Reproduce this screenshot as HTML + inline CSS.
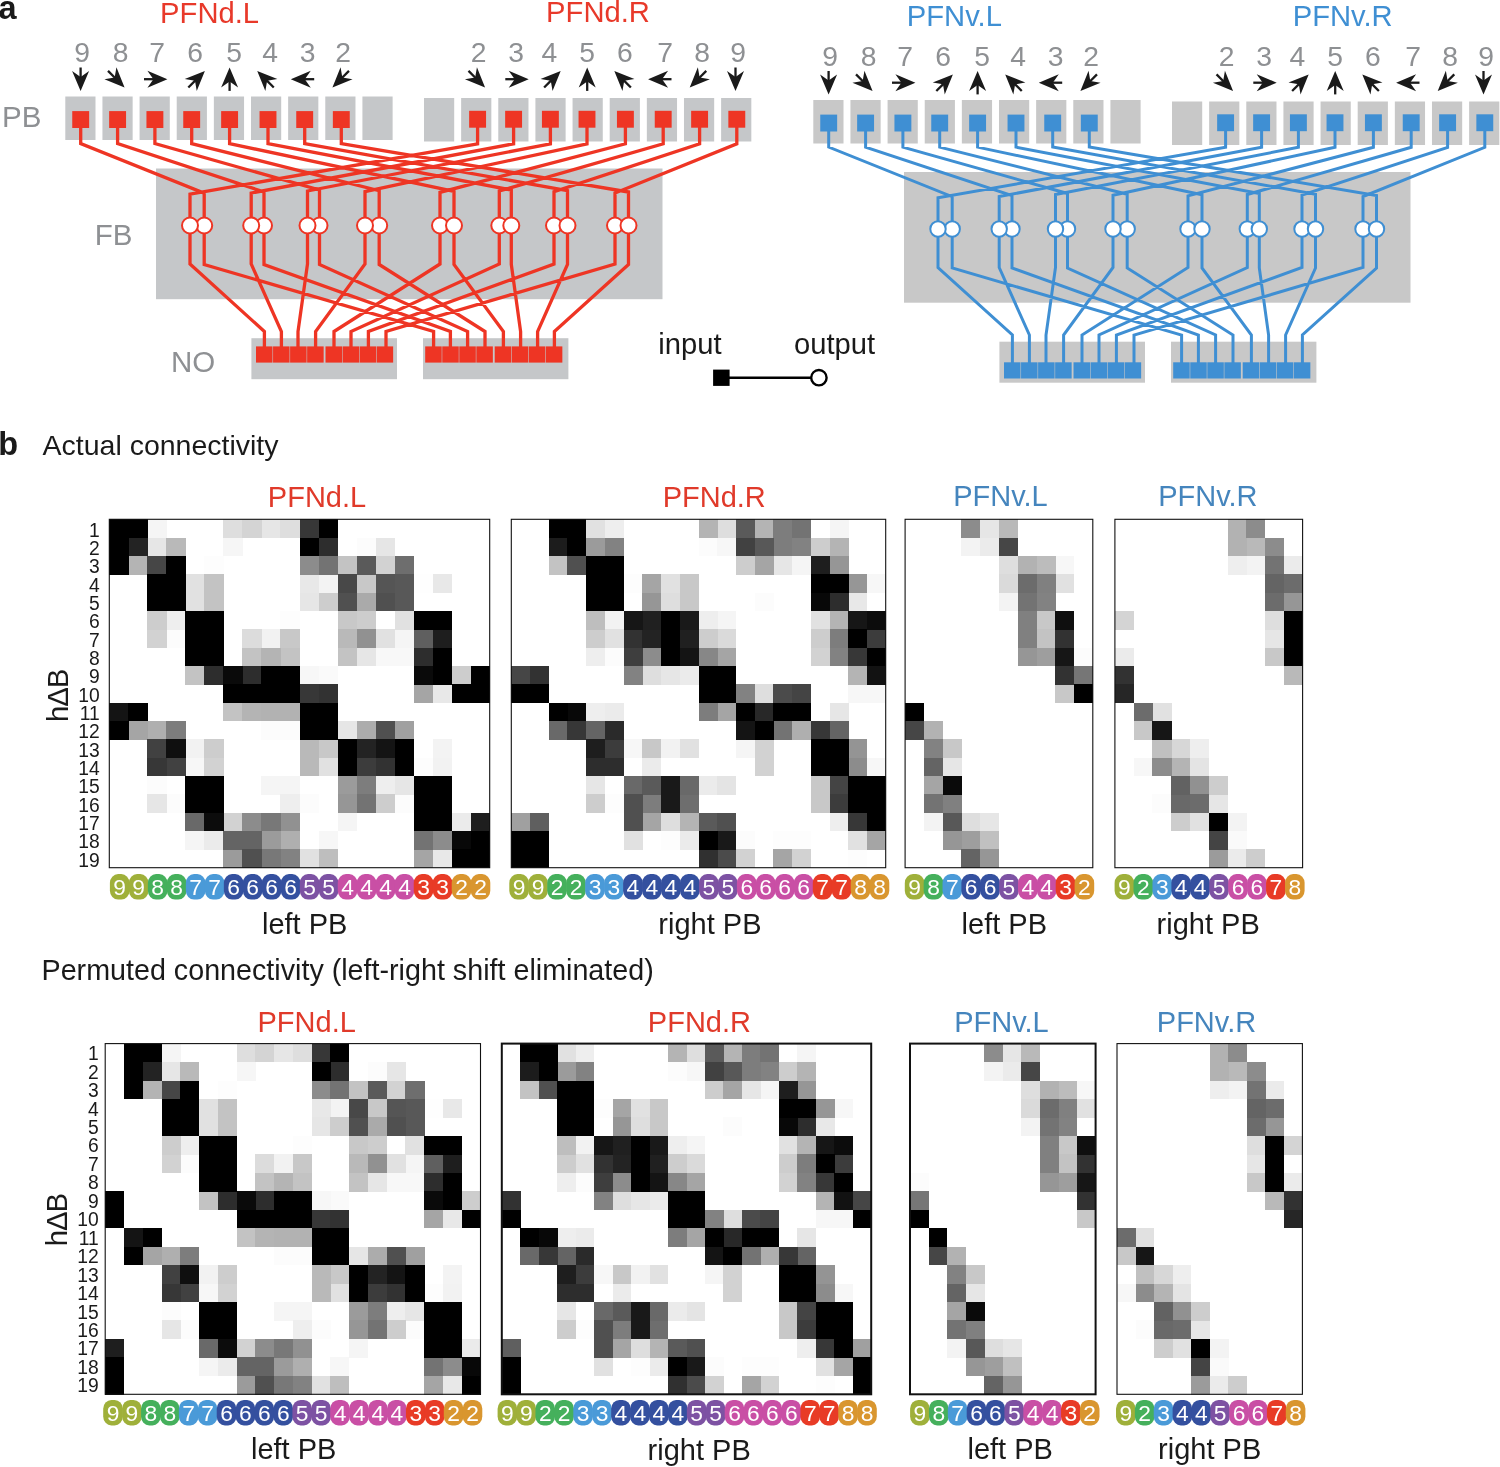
<!DOCTYPE html>
<html><head><meta charset="utf-8"><title>PFN connectivity</title>
<style>html,body{margin:0;padding:0;background:#fff}svg{display:block}</style></head>
<body>
<svg width="1500" height="1467" viewBox="0 0 1500 1467" font-family='"Liberation Sans", sans-serif'>
<rect width="1500" height="1467" fill="#fff"/>
<g transform="translate(0 0)">
<rect x="65.3" y="96.5" width="30.2" height="43.5" fill="#c5c7c9"/>
<rect x="424" y="98" width="30.2" height="43.5" fill="#c5c7c9"/>
<rect x="102.44" y="96.5" width="30.2" height="43.5" fill="#c5c7c9"/>
<rect x="461.14" y="98" width="30.2" height="43.5" fill="#c5c7c9"/>
<rect x="139.58" y="96.5" width="30.2" height="43.5" fill="#c5c7c9"/>
<rect x="498.28" y="98" width="30.2" height="43.5" fill="#c5c7c9"/>
<rect x="176.72" y="96.5" width="30.2" height="43.5" fill="#c5c7c9"/>
<rect x="535.42" y="98" width="30.2" height="43.5" fill="#c5c7c9"/>
<rect x="213.86" y="96.5" width="30.2" height="43.5" fill="#c5c7c9"/>
<rect x="572.56" y="98" width="30.2" height="43.5" fill="#c5c7c9"/>
<rect x="251" y="96.5" width="30.2" height="43.5" fill="#c5c7c9"/>
<rect x="609.7" y="98" width="30.2" height="43.5" fill="#c5c7c9"/>
<rect x="288.14" y="96.5" width="30.2" height="43.5" fill="#c5c7c9"/>
<rect x="646.84" y="98" width="30.2" height="43.5" fill="#c5c7c9"/>
<rect x="325.28" y="96.5" width="30.2" height="43.5" fill="#c5c7c9"/>
<rect x="683.98" y="98" width="30.2" height="43.5" fill="#c5c7c9"/>
<rect x="362.42" y="96.5" width="30.2" height="43.5" fill="#c5c7c9"/>
<rect x="721.12" y="98" width="30.2" height="43.5" fill="#c5c7c9"/>
<rect x="156" y="168.5" width="506.5" height="130.7" fill="#c5c7c9"/>
<rect x="251.4" y="338.2" width="145.6" height="41" fill="#c5c7c9"/>
<rect x="423" y="338.2" width="145.4" height="41" fill="#c5c7c9"/>
<path d="M80.7 120 V143.6 L204.2 193.2 V264.5 L433.6 331.5 V348.4 M477.6 120 V143.8 L190 194.2 V264 L264.4 331.5 V348.4 M117.6 120 V143.6 L264 192 V264.5 L450.4 331.5 V348.4 M513.6 120 V143.8 L251.2 193 V264 L281.4 331.5 V348.4 M154.9 120 V143.6 L319.5 190 V264.5 L467.6 331.5 V348.4 M550.4 120 V143.8 L307.5 191 V264 L298 331.5 V348.4 M191.7 120 V143.6 L379.2 190.7 V264.5 L485 331.5 V348.4 M587 120 V143.8 L365 191.7 V264 L315.6 331.5 V348.4 M229.6 120 V143.6 L454 191.3 V264.5 L503.4 331.5 V348.4 M625.4 120 V143.8 L440 192.3 V264 L334 331.5 V348.4 M268 120 V143.6 L511.3 190 V264.5 L520.6 331.5 V348.4 M663.2 120 V143.8 L499.3 191 V264 L351 331.5 V348.4 M304.7 120 V143.6 L567.5 190.7 V264.5 L537.6 331.5 V348.4 M699.6 120 V143.8 L554 191.7 V264 L368.4 331.5 V348.4 M341.3 120 V143.6 L628.5 192 V264.5 L554.4 331.5 V348.4 M736.8 120 V143.8 L615 193 V264 L386 331.5 V348.4" fill="none" stroke="#ee3524" stroke-width="3.3" stroke-linejoin="miter"/>
<rect x="72.25" y="111.1" width="16.9" height="16.9" fill="#ee3524"/>
<rect x="469.15" y="110.8" width="16.9" height="16.9" fill="#ee3524"/>
<rect x="109.15" y="111.1" width="16.9" height="16.9" fill="#ee3524"/>
<rect x="505.15" y="110.8" width="16.9" height="16.9" fill="#ee3524"/>
<rect x="146.45" y="111.1" width="16.9" height="16.9" fill="#ee3524"/>
<rect x="541.95" y="110.8" width="16.9" height="16.9" fill="#ee3524"/>
<rect x="183.25" y="111.1" width="16.9" height="16.9" fill="#ee3524"/>
<rect x="578.55" y="110.8" width="16.9" height="16.9" fill="#ee3524"/>
<rect x="221.15" y="111.1" width="16.9" height="16.9" fill="#ee3524"/>
<rect x="616.95" y="110.8" width="16.9" height="16.9" fill="#ee3524"/>
<rect x="259.55" y="111.1" width="16.9" height="16.9" fill="#ee3524"/>
<rect x="654.75" y="110.8" width="16.9" height="16.9" fill="#ee3524"/>
<rect x="296.25" y="111.1" width="16.9" height="16.9" fill="#ee3524"/>
<rect x="691.15" y="110.8" width="16.9" height="16.9" fill="#ee3524"/>
<rect x="332.85" y="111.1" width="16.9" height="16.9" fill="#ee3524"/>
<rect x="728.35" y="110.8" width="16.9" height="16.9" fill="#ee3524"/>
<rect x="256" y="346.4" width="16.5" height="16.2" fill="#ee3524"/>
<rect x="273.05" y="346.4" width="16.5" height="16.2" fill="#ee3524"/>
<rect x="290.1" y="346.4" width="16.5" height="16.2" fill="#ee3524"/>
<rect x="307.15" y="346.4" width="16.5" height="16.2" fill="#ee3524"/>
<rect x="325.5" y="346.4" width="16.5" height="16.2" fill="#ee3524"/>
<rect x="342.55" y="346.4" width="16.5" height="16.2" fill="#ee3524"/>
<rect x="359.6" y="346.4" width="16.5" height="16.2" fill="#ee3524"/>
<rect x="376.65" y="346.4" width="16.5" height="16.2" fill="#ee3524"/>
<rect x="425.2" y="346.4" width="16.5" height="16.2" fill="#ee3524"/>
<rect x="442.25" y="346.4" width="16.5" height="16.2" fill="#ee3524"/>
<rect x="459.3" y="346.4" width="16.5" height="16.2" fill="#ee3524"/>
<rect x="476.35" y="346.4" width="16.5" height="16.2" fill="#ee3524"/>
<rect x="494.7" y="346.4" width="16.5" height="16.2" fill="#ee3524"/>
<rect x="511.75" y="346.4" width="16.5" height="16.2" fill="#ee3524"/>
<rect x="528.8" y="346.4" width="16.5" height="16.2" fill="#ee3524"/>
<rect x="545.85" y="346.4" width="16.5" height="16.2" fill="#ee3524"/>
<circle cx="204.2" cy="225.5" r="8.0" fill="#fff" stroke="#ee3524" stroke-width="2.0"/>
<circle cx="190" cy="225.5" r="8.0" fill="#fff" stroke="#ee3524" stroke-width="2.0"/>
<circle cx="264" cy="225.5" r="8.0" fill="#fff" stroke="#ee3524" stroke-width="2.0"/>
<circle cx="251.2" cy="225.5" r="8.0" fill="#fff" stroke="#ee3524" stroke-width="2.0"/>
<circle cx="319.5" cy="225.5" r="8.0" fill="#fff" stroke="#ee3524" stroke-width="2.0"/>
<circle cx="307.5" cy="225.5" r="8.0" fill="#fff" stroke="#ee3524" stroke-width="2.0"/>
<circle cx="379.2" cy="225.5" r="8.0" fill="#fff" stroke="#ee3524" stroke-width="2.0"/>
<circle cx="365" cy="225.5" r="8.0" fill="#fff" stroke="#ee3524" stroke-width="2.0"/>
<circle cx="440" cy="225.5" r="8.0" fill="#fff" stroke="#ee3524" stroke-width="2.0"/>
<circle cx="454" cy="225.5" r="8.0" fill="#fff" stroke="#ee3524" stroke-width="2.0"/>
<circle cx="499.3" cy="225.5" r="8.0" fill="#fff" stroke="#ee3524" stroke-width="2.0"/>
<circle cx="511.3" cy="225.5" r="8.0" fill="#fff" stroke="#ee3524" stroke-width="2.0"/>
<circle cx="554" cy="225.5" r="8.0" fill="#fff" stroke="#ee3524" stroke-width="2.0"/>
<circle cx="567.5" cy="225.5" r="8.0" fill="#fff" stroke="#ee3524" stroke-width="2.0"/>
<circle cx="615" cy="225.5" r="8.0" fill="#fff" stroke="#ee3524" stroke-width="2.0"/>
<circle cx="628.5" cy="225.5" r="8.0" fill="#fff" stroke="#ee3524" stroke-width="2.0"/>
</g>
<text x="82" y="62.4" font-size="28.3" fill="#8e9093" text-anchor="middle">9</text>
<g transform="translate(80.6 79.2) rotate(90)"><path d="M11.7 0 L-8.3 -8.5 L-2.3 0 L-8.3 8.5 Z" fill="#1a1a1a"/><path d="M-11.7 0 L-1.3 0" stroke="#1a1a1a" stroke-width="2.3" fill="none"/></g>
<text x="478.7" y="62.4" font-size="28.3" fill="#8e9093" text-anchor="middle">2</text>
<g transform="translate(476.8 79.2) rotate(45)"><path d="M11.7 0 L-8.3 -8.5 L-2.3 0 L-8.3 8.5 Z" fill="#1a1a1a"/><path d="M-11.7 0 L-1.3 0" stroke="#1a1a1a" stroke-width="2.3" fill="none"/></g>
<text x="120.5" y="62.4" font-size="28.3" fill="#8e9093" text-anchor="middle">8</text>
<g transform="translate(116.3 79.2) rotate(45)"><path d="M11.7 0 L-8.3 -8.5 L-2.3 0 L-8.3 8.5 Z" fill="#1a1a1a"/><path d="M-11.7 0 L-1.3 0" stroke="#1a1a1a" stroke-width="2.3" fill="none"/></g>
<text x="516" y="62.4" font-size="28.3" fill="#8e9093" text-anchor="middle">3</text>
<g transform="translate(517 79.2) rotate(0)"><path d="M11.7 0 L-8.3 -8.5 L-2.3 0 L-8.3 8.5 Z" fill="#1a1a1a"/><path d="M-11.7 0 L-1.3 0" stroke="#1a1a1a" stroke-width="2.3" fill="none"/></g>
<text x="157.2" y="62.4" font-size="28.3" fill="#8e9093" text-anchor="middle">7</text>
<g transform="translate(155.7 79.2) rotate(0)"><path d="M11.7 0 L-8.3 -8.5 L-2.3 0 L-8.3 8.5 Z" fill="#1a1a1a"/><path d="M-11.7 0 L-1.3 0" stroke="#1a1a1a" stroke-width="2.3" fill="none"/></g>
<text x="549.4" y="62.4" font-size="28.3" fill="#8e9093" text-anchor="middle">4</text>
<g transform="translate(552.4 79.2) rotate(-45)"><path d="M11.7 0 L-8.3 -8.5 L-2.3 0 L-8.3 8.5 Z" fill="#1a1a1a"/><path d="M-11.7 0 L-1.3 0" stroke="#1a1a1a" stroke-width="2.3" fill="none"/></g>
<text x="195.2" y="62.4" font-size="28.3" fill="#8e9093" text-anchor="middle">6</text>
<g transform="translate(196.6 79.2) rotate(-45)"><path d="M11.7 0 L-8.3 -8.5 L-2.3 0 L-8.3 8.5 Z" fill="#1a1a1a"/><path d="M-11.7 0 L-1.3 0" stroke="#1a1a1a" stroke-width="2.3" fill="none"/></g>
<text x="587.2" y="62.4" font-size="28.3" fill="#8e9093" text-anchor="middle">5</text>
<g transform="translate(587.2 79.2) rotate(-90)"><path d="M11.7 0 L-8.3 -8.5 L-2.3 0 L-8.3 8.5 Z" fill="#1a1a1a"/><path d="M-11.7 0 L-1.3 0" stroke="#1a1a1a" stroke-width="2.3" fill="none"/></g>
<text x="234" y="62.4" font-size="28.3" fill="#8e9093" text-anchor="middle">5</text>
<g transform="translate(229.6 79.2) rotate(-90)"><path d="M11.7 0 L-8.3 -8.5 L-2.3 0 L-8.3 8.5 Z" fill="#1a1a1a"/><path d="M-11.7 0 L-1.3 0" stroke="#1a1a1a" stroke-width="2.3" fill="none"/></g>
<text x="624.8" y="62.4" font-size="28.3" fill="#8e9093" text-anchor="middle">6</text>
<g transform="translate(622.6 79.2) rotate(-135)"><path d="M11.7 0 L-8.3 -8.5 L-2.3 0 L-8.3 8.5 Z" fill="#1a1a1a"/><path d="M-11.7 0 L-1.3 0" stroke="#1a1a1a" stroke-width="2.3" fill="none"/></g>
<text x="270" y="62.4" font-size="28.3" fill="#8e9093" text-anchor="middle">4</text>
<g transform="translate(265.5 79.2) rotate(-135)"><path d="M11.7 0 L-8.3 -8.5 L-2.3 0 L-8.3 8.5 Z" fill="#1a1a1a"/><path d="M-11.7 0 L-1.3 0" stroke="#1a1a1a" stroke-width="2.3" fill="none"/></g>
<text x="665.2" y="62.4" font-size="28.3" fill="#8e9093" text-anchor="middle">7</text>
<g transform="translate(659.8 79.2) rotate(180)"><path d="M11.7 0 L-8.3 -8.5 L-2.3 0 L-8.3 8.5 Z" fill="#1a1a1a"/><path d="M-11.7 0 L-1.3 0" stroke="#1a1a1a" stroke-width="2.3" fill="none"/></g>
<text x="307.7" y="62.4" font-size="28.3" fill="#8e9093" text-anchor="middle">3</text>
<g transform="translate(302.5 79.2) rotate(180)"><path d="M11.7 0 L-8.3 -8.5 L-2.3 0 L-8.3 8.5 Z" fill="#1a1a1a"/><path d="M-11.7 0 L-1.3 0" stroke="#1a1a1a" stroke-width="2.3" fill="none"/></g>
<text x="702.2" y="62.4" font-size="28.3" fill="#8e9093" text-anchor="middle">8</text>
<g transform="translate(698 79.2) rotate(135)"><path d="M11.7 0 L-8.3 -8.5 L-2.3 0 L-8.3 8.5 Z" fill="#1a1a1a"/><path d="M-11.7 0 L-1.3 0" stroke="#1a1a1a" stroke-width="2.3" fill="none"/></g>
<text x="343" y="62.4" font-size="28.3" fill="#8e9093" text-anchor="middle">2</text>
<g transform="translate(340.7 79.2) rotate(135)"><path d="M11.7 0 L-8.3 -8.5 L-2.3 0 L-8.3 8.5 Z" fill="#1a1a1a"/><path d="M-11.7 0 L-1.3 0" stroke="#1a1a1a" stroke-width="2.3" fill="none"/></g>
<text x="738.2" y="62.4" font-size="28.3" fill="#8e9093" text-anchor="middle">9</text>
<g transform="translate(735.5 79.2) rotate(90)"><path d="M11.7 0 L-8.3 -8.5 L-2.3 0 L-8.3 8.5 Z" fill="#1a1a1a"/><path d="M-11.7 0 L-1.3 0" stroke="#1a1a1a" stroke-width="2.3" fill="none"/></g>
<text x="209.6" y="22.6" font-size="29.2" fill="#e8392a" text-anchor="middle">PFNd.L</text>
<text x="598" y="22.2" font-size="29.2" fill="#e8392a" text-anchor="middle">PFNd.R</text>
<g transform="translate(748 3.5)">
<rect x="65.3" y="96.5" width="30.2" height="43.5" fill="#c8c8c8"/>
<rect x="424" y="98" width="30.2" height="43.5" fill="#c8c8c8"/>
<rect x="102.44" y="96.5" width="30.2" height="43.5" fill="#c8c8c8"/>
<rect x="461.14" y="98" width="30.2" height="43.5" fill="#c8c8c8"/>
<rect x="139.58" y="96.5" width="30.2" height="43.5" fill="#c8c8c8"/>
<rect x="498.28" y="98" width="30.2" height="43.5" fill="#c8c8c8"/>
<rect x="176.72" y="96.5" width="30.2" height="43.5" fill="#c8c8c8"/>
<rect x="535.42" y="98" width="30.2" height="43.5" fill="#c8c8c8"/>
<rect x="213.86" y="96.5" width="30.2" height="43.5" fill="#c8c8c8"/>
<rect x="572.56" y="98" width="30.2" height="43.5" fill="#c8c8c8"/>
<rect x="251" y="96.5" width="30.2" height="43.5" fill="#c8c8c8"/>
<rect x="609.7" y="98" width="30.2" height="43.5" fill="#c8c8c8"/>
<rect x="288.14" y="96.5" width="30.2" height="43.5" fill="#c8c8c8"/>
<rect x="646.84" y="98" width="30.2" height="43.5" fill="#c8c8c8"/>
<rect x="325.28" y="96.5" width="30.2" height="43.5" fill="#c8c8c8"/>
<rect x="683.98" y="98" width="30.2" height="43.5" fill="#c8c8c8"/>
<rect x="362.42" y="96.5" width="30.2" height="43.5" fill="#c8c8c8"/>
<rect x="721.12" y="98" width="30.2" height="43.5" fill="#c8c8c8"/>
<rect x="156" y="168.5" width="506.5" height="130.7" fill="#c8c8c8"/>
<rect x="251.4" y="338.2" width="145.6" height="41" fill="#c8c8c8"/>
<rect x="423" y="338.2" width="145.4" height="41" fill="#c8c8c8"/>
<path d="M80.7 120 V143.6 L204.2 193.2 V264.5 L433.6 331.5 V360.8 M477.6 120 V143.8 L190 194.2 V264 L264.4 331.5 V360.8 M117.6 120 V143.6 L264 192 V264.5 L450.4 331.5 V360.8 M513.6 120 V143.8 L251.2 193 V264 L281.4 331.5 V360.8 M154.9 120 V143.6 L319.5 190 V264.5 L467.6 331.5 V360.8 M550.4 120 V143.8 L307.5 191 V264 L298 331.5 V360.8 M191.7 120 V143.6 L379.2 190.7 V264.5 L485 331.5 V360.8 M587 120 V143.8 L365 191.7 V264 L315.6 331.5 V360.8 M229.6 120 V143.6 L454 191.3 V264.5 L503.4 331.5 V360.8 M625.4 120 V143.8 L440 192.3 V264 L334 331.5 V360.8 M268 120 V143.6 L511.3 190 V264.5 L520.6 331.5 V360.8 M663.2 120 V143.8 L499.3 191 V264 L351 331.5 V360.8 M304.7 120 V143.6 L567.5 190.7 V264.5 L537.6 331.5 V360.8 M699.6 120 V143.8 L554 191.7 V264 L368.4 331.5 V360.8 M341.3 120 V143.6 L628.5 192 V264.5 L554.4 331.5 V360.8 M736.8 120 V143.8 L615 193 V264 L386 331.5 V360.8" fill="none" stroke="#3f8fd3" stroke-width="3.0" stroke-linejoin="miter"/>
<rect x="72.25" y="111.1" width="16.9" height="16.9" fill="#3f8fd3"/>
<rect x="469.15" y="110.8" width="16.9" height="16.9" fill="#3f8fd3"/>
<rect x="109.15" y="111.1" width="16.9" height="16.9" fill="#3f8fd3"/>
<rect x="505.15" y="110.8" width="16.9" height="16.9" fill="#3f8fd3"/>
<rect x="146.45" y="111.1" width="16.9" height="16.9" fill="#3f8fd3"/>
<rect x="541.95" y="110.8" width="16.9" height="16.9" fill="#3f8fd3"/>
<rect x="183.25" y="111.1" width="16.9" height="16.9" fill="#3f8fd3"/>
<rect x="578.55" y="110.8" width="16.9" height="16.9" fill="#3f8fd3"/>
<rect x="221.15" y="111.1" width="16.9" height="16.9" fill="#3f8fd3"/>
<rect x="616.95" y="110.8" width="16.9" height="16.9" fill="#3f8fd3"/>
<rect x="259.55" y="111.1" width="16.9" height="16.9" fill="#3f8fd3"/>
<rect x="654.75" y="110.8" width="16.9" height="16.9" fill="#3f8fd3"/>
<rect x="296.25" y="111.1" width="16.9" height="16.9" fill="#3f8fd3"/>
<rect x="691.15" y="110.8" width="16.9" height="16.9" fill="#3f8fd3"/>
<rect x="332.85" y="111.1" width="16.9" height="16.9" fill="#3f8fd3"/>
<rect x="728.35" y="110.8" width="16.9" height="16.9" fill="#3f8fd3"/>
<rect x="256" y="358.8" width="16.5" height="16.2" fill="#3f8fd3"/>
<rect x="273.05" y="358.8" width="16.5" height="16.2" fill="#3f8fd3"/>
<rect x="290.1" y="358.8" width="16.5" height="16.2" fill="#3f8fd3"/>
<rect x="307.15" y="358.8" width="16.5" height="16.2" fill="#3f8fd3"/>
<rect x="325.5" y="358.8" width="16.5" height="16.2" fill="#3f8fd3"/>
<rect x="342.55" y="358.8" width="16.5" height="16.2" fill="#3f8fd3"/>
<rect x="359.6" y="358.8" width="16.5" height="16.2" fill="#3f8fd3"/>
<rect x="376.65" y="358.8" width="16.5" height="16.2" fill="#3f8fd3"/>
<rect x="425.2" y="358.8" width="16.5" height="16.2" fill="#3f8fd3"/>
<rect x="442.25" y="358.8" width="16.5" height="16.2" fill="#3f8fd3"/>
<rect x="459.3" y="358.8" width="16.5" height="16.2" fill="#3f8fd3"/>
<rect x="476.35" y="358.8" width="16.5" height="16.2" fill="#3f8fd3"/>
<rect x="494.7" y="358.8" width="16.5" height="16.2" fill="#3f8fd3"/>
<rect x="511.75" y="358.8" width="16.5" height="16.2" fill="#3f8fd3"/>
<rect x="528.8" y="358.8" width="16.5" height="16.2" fill="#3f8fd3"/>
<rect x="545.85" y="358.8" width="16.5" height="16.2" fill="#3f8fd3"/>
<circle cx="204.2" cy="225.5" r="7.7" fill="#fff" stroke="#3f8fd3" stroke-width="2.0"/>
<circle cx="190" cy="225.5" r="7.7" fill="#fff" stroke="#3f8fd3" stroke-width="2.0"/>
<circle cx="264" cy="225.5" r="7.7" fill="#fff" stroke="#3f8fd3" stroke-width="2.0"/>
<circle cx="251.2" cy="225.5" r="7.7" fill="#fff" stroke="#3f8fd3" stroke-width="2.0"/>
<circle cx="319.5" cy="225.5" r="7.7" fill="#fff" stroke="#3f8fd3" stroke-width="2.0"/>
<circle cx="307.5" cy="225.5" r="7.7" fill="#fff" stroke="#3f8fd3" stroke-width="2.0"/>
<circle cx="379.2" cy="225.5" r="7.7" fill="#fff" stroke="#3f8fd3" stroke-width="2.0"/>
<circle cx="365" cy="225.5" r="7.7" fill="#fff" stroke="#3f8fd3" stroke-width="2.0"/>
<circle cx="440" cy="225.5" r="7.7" fill="#fff" stroke="#3f8fd3" stroke-width="2.0"/>
<circle cx="454" cy="225.5" r="7.7" fill="#fff" stroke="#3f8fd3" stroke-width="2.0"/>
<circle cx="499.3" cy="225.5" r="7.7" fill="#fff" stroke="#3f8fd3" stroke-width="2.0"/>
<circle cx="511.3" cy="225.5" r="7.7" fill="#fff" stroke="#3f8fd3" stroke-width="2.0"/>
<circle cx="554" cy="225.5" r="7.7" fill="#fff" stroke="#3f8fd3" stroke-width="2.0"/>
<circle cx="567.5" cy="225.5" r="7.7" fill="#fff" stroke="#3f8fd3" stroke-width="2.0"/>
<circle cx="615" cy="225.5" r="7.7" fill="#fff" stroke="#3f8fd3" stroke-width="2.0"/>
<circle cx="628.5" cy="225.5" r="7.7" fill="#fff" stroke="#3f8fd3" stroke-width="2.0"/>
</g>
<text x="830" y="65.9" font-size="28.3" fill="#8e9093" text-anchor="middle">9</text>
<g transform="translate(828.6 82.7) rotate(90)"><path d="M11.7 0 L-8.3 -8.5 L-2.3 0 L-8.3 8.5 Z" fill="#1a1a1a"/><path d="M-11.7 0 L-1.3 0" stroke="#1a1a1a" stroke-width="2.3" fill="none"/></g>
<text x="1226.7" y="65.9" font-size="28.3" fill="#8e9093" text-anchor="middle">2</text>
<g transform="translate(1224.8 82.7) rotate(45)"><path d="M11.7 0 L-8.3 -8.5 L-2.3 0 L-8.3 8.5 Z" fill="#1a1a1a"/><path d="M-11.7 0 L-1.3 0" stroke="#1a1a1a" stroke-width="2.3" fill="none"/></g>
<text x="868.5" y="65.9" font-size="28.3" fill="#8e9093" text-anchor="middle">8</text>
<g transform="translate(864.3 82.7) rotate(45)"><path d="M11.7 0 L-8.3 -8.5 L-2.3 0 L-8.3 8.5 Z" fill="#1a1a1a"/><path d="M-11.7 0 L-1.3 0" stroke="#1a1a1a" stroke-width="2.3" fill="none"/></g>
<text x="1264" y="65.9" font-size="28.3" fill="#8e9093" text-anchor="middle">3</text>
<g transform="translate(1265 82.7) rotate(0)"><path d="M11.7 0 L-8.3 -8.5 L-2.3 0 L-8.3 8.5 Z" fill="#1a1a1a"/><path d="M-11.7 0 L-1.3 0" stroke="#1a1a1a" stroke-width="2.3" fill="none"/></g>
<text x="905.2" y="65.9" font-size="28.3" fill="#8e9093" text-anchor="middle">7</text>
<g transform="translate(903.7 82.7) rotate(0)"><path d="M11.7 0 L-8.3 -8.5 L-2.3 0 L-8.3 8.5 Z" fill="#1a1a1a"/><path d="M-11.7 0 L-1.3 0" stroke="#1a1a1a" stroke-width="2.3" fill="none"/></g>
<text x="1297.4" y="65.9" font-size="28.3" fill="#8e9093" text-anchor="middle">4</text>
<g transform="translate(1300.4 82.7) rotate(-45)"><path d="M11.7 0 L-8.3 -8.5 L-2.3 0 L-8.3 8.5 Z" fill="#1a1a1a"/><path d="M-11.7 0 L-1.3 0" stroke="#1a1a1a" stroke-width="2.3" fill="none"/></g>
<text x="943.2" y="65.9" font-size="28.3" fill="#8e9093" text-anchor="middle">6</text>
<g transform="translate(944.6 82.7) rotate(-45)"><path d="M11.7 0 L-8.3 -8.5 L-2.3 0 L-8.3 8.5 Z" fill="#1a1a1a"/><path d="M-11.7 0 L-1.3 0" stroke="#1a1a1a" stroke-width="2.3" fill="none"/></g>
<text x="1335.2" y="65.9" font-size="28.3" fill="#8e9093" text-anchor="middle">5</text>
<g transform="translate(1335.2 82.7) rotate(-90)"><path d="M11.7 0 L-8.3 -8.5 L-2.3 0 L-8.3 8.5 Z" fill="#1a1a1a"/><path d="M-11.7 0 L-1.3 0" stroke="#1a1a1a" stroke-width="2.3" fill="none"/></g>
<text x="982" y="65.9" font-size="28.3" fill="#8e9093" text-anchor="middle">5</text>
<g transform="translate(977.6 82.7) rotate(-90)"><path d="M11.7 0 L-8.3 -8.5 L-2.3 0 L-8.3 8.5 Z" fill="#1a1a1a"/><path d="M-11.7 0 L-1.3 0" stroke="#1a1a1a" stroke-width="2.3" fill="none"/></g>
<text x="1372.8" y="65.9" font-size="28.3" fill="#8e9093" text-anchor="middle">6</text>
<g transform="translate(1370.6 82.7) rotate(-135)"><path d="M11.7 0 L-8.3 -8.5 L-2.3 0 L-8.3 8.5 Z" fill="#1a1a1a"/><path d="M-11.7 0 L-1.3 0" stroke="#1a1a1a" stroke-width="2.3" fill="none"/></g>
<text x="1018" y="65.9" font-size="28.3" fill="#8e9093" text-anchor="middle">4</text>
<g transform="translate(1013.5 82.7) rotate(-135)"><path d="M11.7 0 L-8.3 -8.5 L-2.3 0 L-8.3 8.5 Z" fill="#1a1a1a"/><path d="M-11.7 0 L-1.3 0" stroke="#1a1a1a" stroke-width="2.3" fill="none"/></g>
<text x="1413.2" y="65.9" font-size="28.3" fill="#8e9093" text-anchor="middle">7</text>
<g transform="translate(1407.8 82.7) rotate(180)"><path d="M11.7 0 L-8.3 -8.5 L-2.3 0 L-8.3 8.5 Z" fill="#1a1a1a"/><path d="M-11.7 0 L-1.3 0" stroke="#1a1a1a" stroke-width="2.3" fill="none"/></g>
<text x="1055.7" y="65.9" font-size="28.3" fill="#8e9093" text-anchor="middle">3</text>
<g transform="translate(1050.5 82.7) rotate(180)"><path d="M11.7 0 L-8.3 -8.5 L-2.3 0 L-8.3 8.5 Z" fill="#1a1a1a"/><path d="M-11.7 0 L-1.3 0" stroke="#1a1a1a" stroke-width="2.3" fill="none"/></g>
<text x="1450.2" y="65.9" font-size="28.3" fill="#8e9093" text-anchor="middle">8</text>
<g transform="translate(1446 82.7) rotate(135)"><path d="M11.7 0 L-8.3 -8.5 L-2.3 0 L-8.3 8.5 Z" fill="#1a1a1a"/><path d="M-11.7 0 L-1.3 0" stroke="#1a1a1a" stroke-width="2.3" fill="none"/></g>
<text x="1091" y="65.9" font-size="28.3" fill="#8e9093" text-anchor="middle">2</text>
<g transform="translate(1088.7 82.7) rotate(135)"><path d="M11.7 0 L-8.3 -8.5 L-2.3 0 L-8.3 8.5 Z" fill="#1a1a1a"/><path d="M-11.7 0 L-1.3 0" stroke="#1a1a1a" stroke-width="2.3" fill="none"/></g>
<text x="1486.2" y="65.9" font-size="28.3" fill="#8e9093" text-anchor="middle">9</text>
<g transform="translate(1483.5 82.7) rotate(90)"><path d="M11.7 0 L-8.3 -8.5 L-2.3 0 L-8.3 8.5 Z" fill="#1a1a1a"/><path d="M-11.7 0 L-1.3 0" stroke="#1a1a1a" stroke-width="2.3" fill="none"/></g>
<text x="954.4" y="26" font-size="29.2" fill="#3f8fd3" text-anchor="middle">PFNv.L</text>
<text x="1342.7" y="26" font-size="29.2" fill="#3f8fd3" text-anchor="middle">PFNv.R</text>
<text x="-1.6" y="18.5" font-size="32.5" fill="#1a1a1a" text-anchor="start" font-weight="bold">a</text>
<text x="2" y="126.8" font-size="29.5" fill="#8e9093" text-anchor="start">PB</text>
<text x="94.7" y="245.4" font-size="29.5" fill="#8e9093" text-anchor="start">FB</text>
<text x="171" y="372.2" font-size="29.5" fill="#8e9093" text-anchor="start">NO</text>
<text x="658.3" y="353.8" font-size="29.2" fill="#1a1a1a" text-anchor="start">input</text>
<text x="794" y="353.8" font-size="29.2" fill="#1a1a1a" text-anchor="start">output</text>
<path d="M729 377.7 H811" stroke="#000" stroke-width="2.6" fill="none"/>
<rect x="713.1" y="369.6" width="16.5" height="16.3" fill="#000"/>
<circle cx="818.9" cy="377.7" r="7.7" fill="#fff" stroke="#000" stroke-width="2.4"/>
<text x="-1.8" y="454.5" font-size="32.5" fill="#1a1a1a" text-anchor="start" font-weight="bold">b</text>
<text x="42.5" y="454.5" font-size="28.5" fill="#1a1a1a" text-anchor="start">Actual connectivity</text>
<text x="41.5" y="979.5" font-size="28.7" fill="#1a1a1a" text-anchor="start">Permuted connectivity (left-right shift eliminated)</text>
<g shape-rendering="crispEdges">
<rect x="413.62" y="574.31" width="19.32" height="18.64" fill="rgb(254,254,254)"/>
<rect x="413.62" y="757.68" width="19.32" height="18.64" fill="rgb(253,253,253)"/>
<rect x="280.48" y="610.98" width="19.32" height="18.64" fill="rgb(253,253,253)"/>
<rect x="204.4" y="555.97" width="19.32" height="18.64" fill="rgb(253,253,253)"/>
<rect x="394.6" y="794.35" width="19.32" height="18.64" fill="rgb(252,252,252)"/>
<rect x="299.5" y="794.35" width="19.32" height="18.64" fill="rgb(252,252,252)"/>
<rect x="166.36" y="794.35" width="19.32" height="18.64" fill="rgb(252,252,252)"/>
<rect x="147.34" y="776.02" width="19.32" height="18.64" fill="rgb(252,252,252)"/>
<rect x="280.48" y="721.01" width="19.32" height="18.64" fill="rgb(252,252,252)"/>
<rect x="261.46" y="721.01" width="19.32" height="18.64" fill="rgb(252,252,252)"/>
<rect x="166.36" y="629.32" width="19.32" height="18.64" fill="rgb(252,252,252)"/>
<rect x="356.56" y="537.64" width="19.32" height="18.64" fill="rgb(252,252,252)"/>
<rect x="318.52" y="665.99" width="19.32" height="18.64" fill="rgb(250,250,250)"/>
<rect x="394.6" y="647.66" width="19.32" height="18.64" fill="rgb(248,248,248)"/>
<rect x="375.58" y="647.66" width="19.32" height="18.64" fill="rgb(248,248,248)"/>
<rect x="318.52" y="831.03" width="19.32" height="18.64" fill="rgb(247,247,247)"/>
<rect x="185.38" y="757.68" width="19.32" height="18.64" fill="rgb(247,247,247)"/>
<rect x="299.5" y="665.99" width="19.32" height="18.64" fill="rgb(247,247,247)"/>
<rect x="223.42" y="537.64" width="19.32" height="18.64" fill="rgb(246,246,246)"/>
<rect x="185.38" y="831.03" width="19.32" height="18.64" fill="rgb(245,245,245)"/>
<rect x="337.54" y="812.69" width="19.32" height="18.64" fill="rgb(245,245,245)"/>
<rect x="280.48" y="776.02" width="19.32" height="18.64" fill="rgb(245,245,245)"/>
<rect x="261.46" y="776.02" width="19.32" height="18.64" fill="rgb(245,245,245)"/>
<rect x="394.6" y="629.32" width="19.32" height="18.64" fill="rgb(245,245,245)"/>
<rect x="147.34" y="519.3" width="19.32" height="18.64" fill="rgb(245,245,245)"/>
<rect x="432.64" y="739.34" width="19.32" height="18.64" fill="rgb(243,243,243)"/>
<rect x="318.52" y="574.31" width="19.32" height="18.64" fill="rgb(243,243,243)"/>
<rect x="432.64" y="757.68" width="19.32" height="18.64" fill="rgb(242,242,242)"/>
<rect x="185.38" y="739.34" width="19.32" height="18.64" fill="rgb(242,242,242)"/>
<rect x="261.46" y="629.32" width="19.32" height="18.64" fill="rgb(242,242,242)"/>
<rect x="280.48" y="794.35" width="19.32" height="18.64" fill="rgb(238,238,238)"/>
<rect x="375.58" y="776.02" width="19.32" height="18.64" fill="rgb(238,238,238)"/>
<rect x="166.36" y="610.98" width="19.32" height="18.64" fill="rgb(238,238,238)"/>
<rect x="204.4" y="831.03" width="19.32" height="18.64" fill="rgb(235,235,235)"/>
<rect x="451.66" y="812.69" width="19.32" height="18.64" fill="rgb(235,235,235)"/>
<rect x="432.64" y="849.36" width="19.32" height="18.64" fill="rgb(232,232,232)"/>
<rect x="432.64" y="684.33" width="19.32" height="18.64" fill="rgb(232,232,232)"/>
<rect x="432.64" y="574.31" width="19.32" height="18.64" fill="rgb(232,232,232)"/>
<rect x="299.5" y="574.31" width="19.32" height="18.64" fill="rgb(232,232,232)"/>
<rect x="147.34" y="794.35" width="19.32" height="18.64" fill="rgb(230,230,230)"/>
<rect x="394.6" y="776.02" width="19.32" height="18.64" fill="rgb(230,230,230)"/>
<rect x="337.54" y="721.01" width="19.32" height="18.64" fill="rgb(230,230,230)"/>
<rect x="356.56" y="647.66" width="19.32" height="18.64" fill="rgb(230,230,230)"/>
<rect x="299.5" y="592.65" width="19.32" height="18.64" fill="rgb(230,230,230)"/>
<rect x="375.58" y="537.64" width="19.32" height="18.64" fill="rgb(230,230,230)"/>
<rect x="147.34" y="537.64" width="19.32" height="18.64" fill="rgb(230,230,230)"/>
<rect x="261.46" y="519.3" width="19.32" height="18.64" fill="rgb(230,230,230)"/>
<rect x="299.5" y="849.36" width="19.32" height="18.64" fill="rgb(225,225,225)"/>
<rect x="318.52" y="757.68" width="19.32" height="18.64" fill="rgb(225,225,225)"/>
<rect x="375.58" y="629.32" width="19.32" height="18.64" fill="rgb(225,225,225)"/>
<rect x="394.6" y="610.98" width="19.32" height="18.64" fill="rgb(225,225,225)"/>
<rect x="185.38" y="592.65" width="19.32" height="18.64" fill="rgb(225,225,225)"/>
<rect x="185.38" y="574.31" width="19.32" height="18.64" fill="rgb(225,225,225)"/>
<rect x="280.48" y="519.3" width="19.32" height="18.64" fill="rgb(222,222,222)"/>
<rect x="223.42" y="519.3" width="19.32" height="18.64" fill="rgb(222,222,222)"/>
<rect x="242.44" y="629.32" width="19.32" height="18.64" fill="rgb(220,220,220)"/>
<rect x="242.44" y="519.3" width="19.32" height="18.64" fill="rgb(212,212,212)"/>
<rect x="223.42" y="812.69" width="19.32" height="18.64" fill="rgb(210,210,210)"/>
<rect x="204.4" y="757.68" width="19.32" height="18.64" fill="rgb(210,210,210)"/>
<rect x="147.34" y="629.32" width="19.32" height="18.64" fill="rgb(210,210,210)"/>
<rect x="375.58" y="555.97" width="19.32" height="18.64" fill="rgb(210,210,210)"/>
<rect x="375.58" y="794.35" width="19.32" height="18.64" fill="rgb(205,205,205)"/>
<rect x="204.4" y="739.34" width="19.32" height="18.64" fill="rgb(205,205,205)"/>
<rect x="451.66" y="665.99" width="19.32" height="18.64" fill="rgb(205,205,205)"/>
<rect x="356.56" y="610.98" width="19.32" height="18.64" fill="rgb(205,205,205)"/>
<rect x="147.34" y="610.98" width="19.32" height="18.64" fill="rgb(205,205,205)"/>
<rect x="318.52" y="592.65" width="19.32" height="18.64" fill="rgb(205,205,205)"/>
<rect x="318.52" y="739.34" width="19.32" height="18.64" fill="rgb(200,200,200)"/>
<rect x="280.48" y="629.32" width="19.32" height="18.64" fill="rgb(200,200,200)"/>
<rect x="337.54" y="610.98" width="19.32" height="18.64" fill="rgb(200,200,200)"/>
<rect x="356.56" y="574.31" width="19.32" height="18.64" fill="rgb(200,200,200)"/>
<rect x="223.42" y="702.67" width="19.32" height="18.64" fill="rgb(195,195,195)"/>
<rect x="185.38" y="665.99" width="19.32" height="18.64" fill="rgb(195,195,195)"/>
<rect x="337.54" y="647.66" width="19.32" height="18.64" fill="rgb(195,195,195)"/>
<rect x="280.48" y="647.66" width="19.32" height="18.64" fill="rgb(195,195,195)"/>
<rect x="242.44" y="647.66" width="19.32" height="18.64" fill="rgb(195,195,195)"/>
<rect x="204.4" y="592.65" width="19.32" height="18.64" fill="rgb(195,195,195)"/>
<rect x="204.4" y="574.31" width="19.32" height="18.64" fill="rgb(195,195,195)"/>
<rect x="337.54" y="555.97" width="19.32" height="18.64" fill="rgb(195,195,195)"/>
<rect x="318.52" y="849.36" width="19.32" height="18.64" fill="rgb(190,190,190)"/>
<rect x="299.5" y="757.68" width="19.32" height="18.64" fill="rgb(185,185,185)"/>
<rect x="299.5" y="739.34" width="19.32" height="18.64" fill="rgb(185,185,185)"/>
<rect x="337.54" y="629.32" width="19.32" height="18.64" fill="rgb(185,185,185)"/>
<rect x="166.36" y="537.64" width="19.32" height="18.64" fill="rgb(185,185,185)"/>
<rect x="242.44" y="702.67" width="19.32" height="18.64" fill="rgb(180,180,180)"/>
<rect x="261.46" y="647.66" width="19.32" height="18.64" fill="rgb(180,180,180)"/>
<rect x="128.32" y="555.97" width="19.32" height="18.64" fill="rgb(180,180,180)"/>
<rect x="280.48" y="702.67" width="19.32" height="18.64" fill="rgb(178,178,178)"/>
<rect x="261.46" y="702.67" width="19.32" height="18.64" fill="rgb(178,178,178)"/>
<rect x="280.48" y="831.03" width="19.32" height="18.64" fill="rgb(175,175,175)"/>
<rect x="147.34" y="721.01" width="19.32" height="18.64" fill="rgb(175,175,175)"/>
<rect x="356.56" y="721.01" width="19.32" height="18.64" fill="rgb(172,172,172)"/>
<rect x="356.56" y="592.65" width="19.32" height="18.64" fill="rgb(170,170,170)"/>
<rect x="413.62" y="849.36" width="19.32" height="18.64" fill="rgb(165,165,165)"/>
<rect x="128.32" y="721.01" width="19.32" height="18.64" fill="rgb(165,165,165)"/>
<rect x="413.62" y="684.33" width="19.32" height="18.64" fill="rgb(165,165,165)"/>
<rect x="394.6" y="721.01" width="19.32" height="18.64" fill="rgb(160,160,160)"/>
<rect x="223.42" y="849.36" width="19.32" height="18.64" fill="rgb(155,155,155)"/>
<rect x="261.46" y="831.03" width="19.32" height="18.64" fill="rgb(155,155,155)"/>
<rect x="337.54" y="776.02" width="19.32" height="18.64" fill="rgb(155,155,155)"/>
<rect x="337.54" y="794.35" width="19.32" height="18.64" fill="rgb(150,150,150)"/>
<rect x="280.48" y="812.69" width="19.32" height="18.64" fill="rgb(145,145,145)"/>
<rect x="356.56" y="629.32" width="19.32" height="18.64" fill="rgb(145,145,145)"/>
<rect x="432.64" y="831.03" width="19.32" height="18.64" fill="rgb(140,140,140)"/>
<rect x="242.44" y="812.69" width="19.32" height="18.64" fill="rgb(140,140,140)"/>
<rect x="299.5" y="555.97" width="19.32" height="18.64" fill="rgb(140,140,140)"/>
<rect x="280.48" y="849.36" width="19.32" height="18.64" fill="rgb(130,130,130)"/>
<rect x="356.56" y="776.02" width="19.32" height="18.64" fill="rgb(125,125,125)"/>
<rect x="166.36" y="721.01" width="19.32" height="18.64" fill="rgb(125,125,125)"/>
<rect x="261.46" y="849.36" width="19.32" height="18.64" fill="rgb(120,120,120)"/>
<rect x="261.46" y="812.69" width="19.32" height="18.64" fill="rgb(120,120,120)"/>
<rect x="413.62" y="831.03" width="19.32" height="18.64" fill="rgb(115,115,115)"/>
<rect x="356.56" y="794.35" width="19.32" height="18.64" fill="rgb(115,115,115)"/>
<rect x="318.52" y="555.97" width="19.32" height="18.64" fill="rgb(115,115,115)"/>
<rect x="394.6" y="555.97" width="19.32" height="18.64" fill="rgb(110,110,110)"/>
<rect x="185.38" y="812.69" width="19.32" height="18.64" fill="rgb(105,105,105)"/>
<rect x="242.44" y="831.03" width="19.32" height="18.64" fill="rgb(100,100,100)"/>
<rect x="223.42" y="831.03" width="19.32" height="18.64" fill="rgb(100,100,100)"/>
<rect x="413.62" y="629.32" width="19.32" height="18.64" fill="rgb(95,95,95)"/>
<rect x="356.56" y="555.97" width="19.32" height="18.64" fill="rgb(90,90,90)"/>
<rect x="394.6" y="592.65" width="19.32" height="18.64" fill="rgb(88,88,88)"/>
<rect x="394.6" y="574.31" width="19.32" height="18.64" fill="rgb(88,88,88)"/>
<rect x="375.58" y="574.31" width="19.32" height="18.64" fill="rgb(85,85,85)"/>
<rect x="242.44" y="849.36" width="19.32" height="18.64" fill="rgb(80,80,80)"/>
<rect x="375.58" y="721.01" width="19.32" height="18.64" fill="rgb(80,80,80)"/>
<rect x="375.58" y="592.65" width="19.32" height="18.64" fill="rgb(80,80,80)"/>
<rect x="337.54" y="592.65" width="19.32" height="18.64" fill="rgb(80,80,80)"/>
<rect x="337.54" y="574.31" width="19.32" height="18.64" fill="rgb(72,72,72)"/>
<rect x="147.34" y="555.97" width="19.32" height="18.64" fill="rgb(70,70,70)"/>
<rect x="166.36" y="757.68" width="19.32" height="18.64" fill="rgb(65,65,65)"/>
<rect x="147.34" y="739.34" width="19.32" height="18.64" fill="rgb(65,65,65)"/>
<rect x="356.56" y="757.68" width="19.32" height="18.64" fill="rgb(60,60,60)"/>
<rect x="147.34" y="757.68" width="19.32" height="18.64" fill="rgb(55,55,55)"/>
<rect x="299.5" y="684.33" width="19.32" height="18.64" fill="rgb(55,55,55)"/>
<rect x="299.5" y="519.3" width="19.32" height="18.64" fill="rgb(55,55,55)"/>
<rect x="375.58" y="757.68" width="19.32" height="18.64" fill="rgb(50,50,50)"/>
<rect x="318.52" y="684.33" width="19.32" height="18.64" fill="rgb(50,50,50)"/>
<rect x="242.44" y="665.99" width="19.32" height="18.64" fill="rgb(45,45,45)"/>
<rect x="204.4" y="665.99" width="19.32" height="18.64" fill="rgb(45,45,45)"/>
<rect x="413.62" y="647.66" width="19.32" height="18.64" fill="rgb(45,45,45)"/>
<rect x="318.52" y="537.64" width="19.32" height="18.64" fill="rgb(45,45,45)"/>
<rect x="356.56" y="739.34" width="19.32" height="18.64" fill="rgb(35,35,35)"/>
<rect x="128.32" y="537.64" width="19.32" height="18.64" fill="rgb(35,35,35)"/>
<rect x="470.68" y="812.69" width="19.32" height="18.64" fill="rgb(30,30,30)"/>
<rect x="432.64" y="629.32" width="19.32" height="18.64" fill="rgb(30,30,30)"/>
<rect x="375.58" y="739.34" width="19.32" height="18.64" fill="rgb(20,20,20)"/>
<rect x="109.3" y="702.67" width="19.32" height="18.64" fill="rgb(20,20,20)"/>
<rect x="166.36" y="739.34" width="19.32" height="18.64" fill="rgb(15,15,15)"/>
<rect x="204.4" y="812.69" width="19.32" height="18.64" fill="rgb(12,12,12)"/>
<rect x="413.62" y="665.99" width="19.32" height="18.64" fill="rgb(10,10,10)"/>
<rect x="223.42" y="665.99" width="19.32" height="18.64" fill="rgb(10,10,10)"/>
<rect x="451.66" y="831.03" width="19.32" height="18.64" fill="rgb(8,8,8)"/>
<rect x="470.68" y="849.36" width="19.32" height="18.64" fill="rgb(0,0,0)"/>
<rect x="451.66" y="849.36" width="19.32" height="18.64" fill="rgb(0,0,0)"/>
<rect x="470.68" y="831.03" width="19.32" height="18.64" fill="rgb(0,0,0)"/>
<rect x="432.64" y="812.69" width="19.32" height="18.64" fill="rgb(0,0,0)"/>
<rect x="413.62" y="812.69" width="19.32" height="18.64" fill="rgb(0,0,0)"/>
<rect x="432.64" y="794.35" width="19.32" height="18.64" fill="rgb(0,0,0)"/>
<rect x="413.62" y="794.35" width="19.32" height="18.64" fill="rgb(0,0,0)"/>
<rect x="204.4" y="794.35" width="19.32" height="18.64" fill="rgb(0,0,0)"/>
<rect x="185.38" y="794.35" width="19.32" height="18.64" fill="rgb(0,0,0)"/>
<rect x="432.64" y="776.02" width="19.32" height="18.64" fill="rgb(0,0,0)"/>
<rect x="413.62" y="776.02" width="19.32" height="18.64" fill="rgb(0,0,0)"/>
<rect x="204.4" y="776.02" width="19.32" height="18.64" fill="rgb(0,0,0)"/>
<rect x="185.38" y="776.02" width="19.32" height="18.64" fill="rgb(0,0,0)"/>
<rect x="394.6" y="757.68" width="19.32" height="18.64" fill="rgb(0,0,0)"/>
<rect x="337.54" y="757.68" width="19.32" height="18.64" fill="rgb(0,0,0)"/>
<rect x="394.6" y="739.34" width="19.32" height="18.64" fill="rgb(0,0,0)"/>
<rect x="337.54" y="739.34" width="19.32" height="18.64" fill="rgb(0,0,0)"/>
<rect x="318.52" y="721.01" width="19.32" height="18.64" fill="rgb(0,0,0)"/>
<rect x="299.5" y="721.01" width="19.32" height="18.64" fill="rgb(0,0,0)"/>
<rect x="109.3" y="721.01" width="19.32" height="18.64" fill="rgb(0,0,0)"/>
<rect x="318.52" y="702.67" width="19.32" height="18.64" fill="rgb(0,0,0)"/>
<rect x="299.5" y="702.67" width="19.32" height="18.64" fill="rgb(0,0,0)"/>
<rect x="128.32" y="702.67" width="19.32" height="18.64" fill="rgb(0,0,0)"/>
<rect x="470.68" y="684.33" width="19.32" height="18.64" fill="rgb(0,0,0)"/>
<rect x="451.66" y="684.33" width="19.32" height="18.64" fill="rgb(0,0,0)"/>
<rect x="280.48" y="684.33" width="19.32" height="18.64" fill="rgb(0,0,0)"/>
<rect x="261.46" y="684.33" width="19.32" height="18.64" fill="rgb(0,0,0)"/>
<rect x="242.44" y="684.33" width="19.32" height="18.64" fill="rgb(0,0,0)"/>
<rect x="223.42" y="684.33" width="19.32" height="18.64" fill="rgb(0,0,0)"/>
<rect x="470.68" y="665.99" width="19.32" height="18.64" fill="rgb(0,0,0)"/>
<rect x="432.64" y="665.99" width="19.32" height="18.64" fill="rgb(0,0,0)"/>
<rect x="280.48" y="665.99" width="19.32" height="18.64" fill="rgb(0,0,0)"/>
<rect x="261.46" y="665.99" width="19.32" height="18.64" fill="rgb(0,0,0)"/>
<rect x="432.64" y="647.66" width="19.32" height="18.64" fill="rgb(0,0,0)"/>
<rect x="204.4" y="647.66" width="19.32" height="18.64" fill="rgb(0,0,0)"/>
<rect x="185.38" y="647.66" width="19.32" height="18.64" fill="rgb(0,0,0)"/>
<rect x="204.4" y="629.32" width="19.32" height="18.64" fill="rgb(0,0,0)"/>
<rect x="185.38" y="629.32" width="19.32" height="18.64" fill="rgb(0,0,0)"/>
<rect x="432.64" y="610.98" width="19.32" height="18.64" fill="rgb(0,0,0)"/>
<rect x="413.62" y="610.98" width="19.32" height="18.64" fill="rgb(0,0,0)"/>
<rect x="204.4" y="610.98" width="19.32" height="18.64" fill="rgb(0,0,0)"/>
<rect x="185.38" y="610.98" width="19.32" height="18.64" fill="rgb(0,0,0)"/>
<rect x="166.36" y="592.65" width="19.32" height="18.64" fill="rgb(0,0,0)"/>
<rect x="147.34" y="592.65" width="19.32" height="18.64" fill="rgb(0,0,0)"/>
<rect x="166.36" y="574.31" width="19.32" height="18.64" fill="rgb(0,0,0)"/>
<rect x="147.34" y="574.31" width="19.32" height="18.64" fill="rgb(0,0,0)"/>
<rect x="166.36" y="555.97" width="19.32" height="18.64" fill="rgb(0,0,0)"/>
<rect x="109.3" y="555.97" width="19.32" height="18.64" fill="rgb(0,0,0)"/>
<rect x="299.5" y="537.64" width="19.32" height="18.64" fill="rgb(0,0,0)"/>
<rect x="109.3" y="537.64" width="19.32" height="18.64" fill="rgb(0,0,0)"/>
<rect x="318.52" y="519.3" width="19.32" height="18.64" fill="rgb(0,0,0)"/>
<rect x="128.32" y="519.3" width="19.32" height="18.64" fill="rgb(0,0,0)"/>
<rect x="109.3" y="519.3" width="19.32" height="18.64" fill="rgb(0,0,0)"/>
</g>
<rect x="109.3" y="519.3" width="380.4" height="348.4" fill="none" stroke="#111" stroke-width="1.1"/>
<text x="317" y="506.7" font-size="29" fill="#e03a2a" text-anchor="middle">PFNd.L</text>
<text x="304.7" y="934.3" font-size="29" fill="#1a1a1a" text-anchor="middle">left PB</text>
<rect x="109.9" y="874.1" width="19.6" height="25.4" rx="8.2" ry="8.8" fill="#9fb03a"/>
<rect x="128.89" y="874.1" width="19.6" height="25.4" rx="8.2" ry="8.8" fill="#9fb03a"/>
<rect x="147.88" y="874.1" width="19.6" height="25.4" rx="8.2" ry="8.8" fill="#45b05c"/>
<rect x="166.87" y="874.1" width="19.6" height="25.4" rx="8.2" ry="8.8" fill="#45b05c"/>
<rect x="185.86" y="874.1" width="19.6" height="25.4" rx="8.2" ry="8.8" fill="#4a9ad8"/>
<rect x="204.85" y="874.1" width="19.6" height="25.4" rx="8.2" ry="8.8" fill="#4a9ad8"/>
<rect x="223.84" y="874.1" width="19.6" height="25.4" rx="8.2" ry="8.8" fill="#34509f"/>
<rect x="242.83" y="874.1" width="19.6" height="25.4" rx="8.2" ry="8.8" fill="#34509f"/>
<rect x="261.82" y="874.1" width="19.6" height="25.4" rx="8.2" ry="8.8" fill="#34509f"/>
<rect x="280.81" y="874.1" width="19.6" height="25.4" rx="8.2" ry="8.8" fill="#34509f"/>
<rect x="299.79" y="874.1" width="19.6" height="25.4" rx="8.2" ry="8.8" fill="#7d52a3"/>
<rect x="318.78" y="874.1" width="19.6" height="25.4" rx="8.2" ry="8.8" fill="#7d52a3"/>
<rect x="337.77" y="874.1" width="19.6" height="25.4" rx="8.2" ry="8.8" fill="#c94fa5"/>
<rect x="356.76" y="874.1" width="19.6" height="25.4" rx="8.2" ry="8.8" fill="#c94fa5"/>
<rect x="375.75" y="874.1" width="19.6" height="25.4" rx="8.2" ry="8.8" fill="#c94fa5"/>
<rect x="394.74" y="874.1" width="19.6" height="25.4" rx="8.2" ry="8.8" fill="#c94fa5"/>
<rect x="413.73" y="874.1" width="19.6" height="25.4" rx="8.2" ry="8.8" fill="#e83b26"/>
<rect x="432.72" y="874.1" width="19.6" height="25.4" rx="8.2" ry="8.8" fill="#e83b26"/>
<rect x="451.71" y="874.1" width="19.6" height="25.4" rx="8.2" ry="8.8" fill="#d9962f"/>
<rect x="470.7" y="874.1" width="19.6" height="25.4" rx="8.2" ry="8.8" fill="#d9962f"/>
<text x="119.7" y="895.2" font-size="22.8" text-anchor="middle" fill="#fff">9</text>
<text x="138.69" y="895.2" font-size="22.8" text-anchor="middle" fill="#fff">9</text>
<text x="157.68" y="895.2" font-size="22.8" text-anchor="middle" fill="#fff">8</text>
<text x="176.67" y="895.2" font-size="22.8" text-anchor="middle" fill="#fff">8</text>
<text x="195.66" y="895.2" font-size="22.8" text-anchor="middle" fill="#fff">7</text>
<text x="214.65" y="895.2" font-size="22.8" text-anchor="middle" fill="#fff">7</text>
<text x="233.64" y="895.2" font-size="22.8" text-anchor="middle" fill="#fff">6</text>
<text x="252.63" y="895.2" font-size="22.8" text-anchor="middle" fill="#fff">6</text>
<text x="271.62" y="895.2" font-size="22.8" text-anchor="middle" fill="#fff">6</text>
<text x="290.61" y="895.2" font-size="22.8" text-anchor="middle" fill="#fff">6</text>
<text x="309.59" y="895.2" font-size="22.8" text-anchor="middle" fill="#fff">5</text>
<text x="328.58" y="895.2" font-size="22.8" text-anchor="middle" fill="#fff">5</text>
<text x="347.57" y="895.2" font-size="22.8" text-anchor="middle" fill="#fff">4</text>
<text x="366.56" y="895.2" font-size="22.8" text-anchor="middle" fill="#fff">4</text>
<text x="385.55" y="895.2" font-size="22.8" text-anchor="middle" fill="#fff">4</text>
<text x="404.54" y="895.2" font-size="22.8" text-anchor="middle" fill="#fff">4</text>
<text x="423.53" y="895.2" font-size="22.8" text-anchor="middle" fill="#fff">3</text>
<text x="442.52" y="895.2" font-size="22.8" text-anchor="middle" fill="#fff">3</text>
<text x="461.51" y="895.2" font-size="22.8" text-anchor="middle" fill="#fff">2</text>
<text x="480.5" y="895.2" font-size="22.8" text-anchor="middle" fill="#fff">2</text>
<text x="99.8" y="536.57" font-size="19.3" fill="#1a1a1a" text-anchor="end">1</text>
<text x="99.8" y="554.91" font-size="19.3" fill="#1a1a1a" text-anchor="end">2</text>
<text x="99.8" y="573.24" font-size="19.3" fill="#1a1a1a" text-anchor="end">3</text>
<text x="99.8" y="591.58" font-size="19.3" fill="#1a1a1a" text-anchor="end">4</text>
<text x="99.8" y="609.92" font-size="19.3" fill="#1a1a1a" text-anchor="end">5</text>
<text x="99.8" y="628.25" font-size="19.3" fill="#1a1a1a" text-anchor="end">6</text>
<text x="99.8" y="646.59" font-size="19.3" fill="#1a1a1a" text-anchor="end">7</text>
<text x="99.8" y="664.93" font-size="19.3" fill="#1a1a1a" text-anchor="end">8</text>
<text x="99.8" y="683.26" font-size="19.3" fill="#1a1a1a" text-anchor="end">9</text>
<text x="99.8" y="701.6" font-size="19.3" fill="#1a1a1a" text-anchor="end">10</text>
<text x="99.8" y="719.94" font-size="19.3" fill="#1a1a1a" text-anchor="end">11</text>
<text x="99.8" y="738.27" font-size="19.3" fill="#1a1a1a" text-anchor="end">12</text>
<text x="99.8" y="756.61" font-size="19.3" fill="#1a1a1a" text-anchor="end">13</text>
<text x="99.8" y="774.95" font-size="19.3" fill="#1a1a1a" text-anchor="end">14</text>
<text x="99.8" y="793.28" font-size="19.3" fill="#1a1a1a" text-anchor="end">15</text>
<text x="99.8" y="811.62" font-size="19.3" fill="#1a1a1a" text-anchor="end">16</text>
<text x="99.8" y="829.96" font-size="19.3" fill="#1a1a1a" text-anchor="end">17</text>
<text x="99.8" y="848.29" font-size="19.3" fill="#1a1a1a" text-anchor="end">18</text>
<text x="99.8" y="866.63" font-size="19.3" fill="#1a1a1a" text-anchor="end">19</text>
<g shape-rendering="crispEdges">
<rect x="848.26" y="849.36" width="19.02" height="18.64" fill="rgb(253,253,253)"/>
<rect x="792.1" y="831.03" width="19.02" height="18.64" fill="rgb(253,253,253)"/>
<rect x="773.38" y="831.03" width="19.02" height="18.64" fill="rgb(253,253,253)"/>
<rect x="661.06" y="831.03" width="19.02" height="18.64" fill="rgb(253,253,253)"/>
<rect x="604.9" y="794.35" width="19.02" height="18.64" fill="rgb(253,253,253)"/>
<rect x="623.62" y="574.31" width="19.02" height="18.64" fill="rgb(253,253,253)"/>
<rect x="735.94" y="831.03" width="19.02" height="18.64" fill="rgb(252,252,252)"/>
<rect x="604.9" y="647.66" width="19.02" height="18.64" fill="rgb(252,252,252)"/>
<rect x="754.66" y="592.65" width="19.02" height="18.64" fill="rgb(252,252,252)"/>
<rect x="698.5" y="537.64" width="19.02" height="18.64" fill="rgb(252,252,252)"/>
<rect x="866.98" y="757.68" width="19.02" height="18.64" fill="rgb(247,247,247)"/>
<rect x="623.62" y="739.34" width="19.02" height="18.64" fill="rgb(247,247,247)"/>
<rect x="866.98" y="684.33" width="19.02" height="18.64" fill="rgb(247,247,247)"/>
<rect x="848.26" y="684.33" width="19.02" height="18.64" fill="rgb(247,247,247)"/>
<rect x="866.98" y="574.31" width="19.02" height="18.64" fill="rgb(247,247,247)"/>
<rect x="717.22" y="537.64" width="19.02" height="18.64" fill="rgb(247,247,247)"/>
<rect x="735.94" y="739.34" width="19.02" height="18.64" fill="rgb(245,245,245)"/>
<rect x="717.22" y="610.98" width="19.02" height="18.64" fill="rgb(245,245,245)"/>
<rect x="792.1" y="555.97" width="19.02" height="18.64" fill="rgb(245,245,245)"/>
<rect x="829.54" y="519.3" width="19.02" height="18.64" fill="rgb(245,245,245)"/>
<rect x="661.06" y="739.34" width="19.02" height="18.64" fill="rgb(242,242,242)"/>
<rect x="604.9" y="610.98" width="19.02" height="18.64" fill="rgb(242,242,242)"/>
<rect x="829.54" y="812.69" width="19.02" height="18.64" fill="rgb(238,238,238)"/>
<rect x="586.18" y="702.67" width="19.02" height="18.64" fill="rgb(238,238,238)"/>
<rect x="586.18" y="647.66" width="19.02" height="18.64" fill="rgb(238,238,238)"/>
<rect x="698.5" y="610.98" width="19.02" height="18.64" fill="rgb(238,238,238)"/>
<rect x="604.9" y="519.3" width="19.02" height="18.64" fill="rgb(238,238,238)"/>
<rect x="679.78" y="831.03" width="19.02" height="18.64" fill="rgb(235,235,235)"/>
<rect x="698.5" y="776.02" width="19.02" height="18.64" fill="rgb(235,235,235)"/>
<rect x="642.34" y="757.68" width="19.02" height="18.64" fill="rgb(235,235,235)"/>
<rect x="604.9" y="702.67" width="19.02" height="18.64" fill="rgb(235,235,235)"/>
<rect x="679.78" y="665.99" width="19.02" height="18.64" fill="rgb(235,235,235)"/>
<rect x="848.26" y="592.65" width="19.02" height="18.64" fill="rgb(232,232,232)"/>
<rect x="586.18" y="776.02" width="19.02" height="18.64" fill="rgb(230,230,230)"/>
<rect x="829.54" y="702.67" width="19.02" height="18.64" fill="rgb(230,230,230)"/>
<rect x="661.06" y="665.99" width="19.02" height="18.64" fill="rgb(230,230,230)"/>
<rect x="773.38" y="555.97" width="19.02" height="18.64" fill="rgb(230,230,230)"/>
<rect x="717.22" y="776.02" width="19.02" height="18.64" fill="rgb(228,228,228)"/>
<rect x="848.26" y="831.03" width="19.02" height="18.64" fill="rgb(225,225,225)"/>
<rect x="623.62" y="831.03" width="19.02" height="18.64" fill="rgb(225,225,225)"/>
<rect x="679.78" y="739.34" width="19.02" height="18.64" fill="rgb(225,225,225)"/>
<rect x="604.9" y="629.32" width="19.02" height="18.64" fill="rgb(225,225,225)"/>
<rect x="810.82" y="610.98" width="19.02" height="18.64" fill="rgb(225,225,225)"/>
<rect x="661.06" y="574.31" width="19.02" height="18.64" fill="rgb(225,225,225)"/>
<rect x="586.18" y="519.3" width="19.02" height="18.64" fill="rgb(225,225,225)"/>
<rect x="661.06" y="812.69" width="19.02" height="18.64" fill="rgb(222,222,222)"/>
<rect x="754.66" y="684.33" width="19.02" height="18.64" fill="rgb(222,222,222)"/>
<rect x="642.34" y="665.99" width="19.02" height="18.64" fill="rgb(222,222,222)"/>
<rect x="661.06" y="592.65" width="19.02" height="18.64" fill="rgb(222,222,222)"/>
<rect x="717.22" y="519.3" width="19.02" height="18.64" fill="rgb(222,222,222)"/>
<rect x="717.22" y="629.32" width="19.02" height="18.64" fill="rgb(218,218,218)"/>
<rect x="792.1" y="849.36" width="19.02" height="18.64" fill="rgb(210,210,210)"/>
<rect x="735.94" y="849.36" width="19.02" height="18.64" fill="rgb(210,210,210)"/>
<rect x="754.66" y="757.68" width="19.02" height="18.64" fill="rgb(210,210,210)"/>
<rect x="754.66" y="739.34" width="19.02" height="18.64" fill="rgb(210,210,210)"/>
<rect x="810.82" y="647.66" width="19.02" height="18.64" fill="rgb(210,210,210)"/>
<rect x="586.18" y="794.35" width="19.02" height="18.64" fill="rgb(205,205,205)"/>
<rect x="810.82" y="629.32" width="19.02" height="18.64" fill="rgb(205,205,205)"/>
<rect x="698.5" y="629.32" width="19.02" height="18.64" fill="rgb(205,205,205)"/>
<rect x="586.18" y="629.32" width="19.02" height="18.64" fill="rgb(205,205,205)"/>
<rect x="735.94" y="555.97" width="19.02" height="18.64" fill="rgb(205,205,205)"/>
<rect x="810.82" y="537.64" width="19.02" height="18.64" fill="rgb(205,205,205)"/>
<rect x="810.82" y="794.35" width="19.02" height="18.64" fill="rgb(200,200,200)"/>
<rect x="810.82" y="776.02" width="19.02" height="18.64" fill="rgb(200,200,200)"/>
<rect x="642.34" y="739.34" width="19.02" height="18.64" fill="rgb(200,200,200)"/>
<rect x="679.78" y="592.65" width="19.02" height="18.64" fill="rgb(200,200,200)"/>
<rect x="679.78" y="574.31" width="19.02" height="18.64" fill="rgb(200,200,200)"/>
<rect x="548.74" y="555.97" width="19.02" height="18.64" fill="rgb(195,195,195)"/>
<rect x="586.18" y="610.98" width="19.02" height="18.64" fill="rgb(190,190,190)"/>
<rect x="679.78" y="812.69" width="19.02" height="18.64" fill="rgb(180,180,180)"/>
<rect x="848.26" y="665.99" width="19.02" height="18.64" fill="rgb(180,180,180)"/>
<rect x="829.54" y="610.98" width="19.02" height="18.64" fill="rgb(180,180,180)"/>
<rect x="829.54" y="537.64" width="19.02" height="18.64" fill="rgb(180,180,180)"/>
<rect x="754.66" y="519.3" width="19.02" height="18.64" fill="rgb(180,180,180)"/>
<rect x="698.5" y="519.3" width="19.02" height="18.64" fill="rgb(180,180,180)"/>
<rect x="792.1" y="721.01" width="19.02" height="18.64" fill="rgb(175,175,175)"/>
<rect x="773.38" y="849.36" width="19.02" height="18.64" fill="rgb(165,165,165)"/>
<rect x="866.98" y="831.03" width="19.02" height="18.64" fill="rgb(165,165,165)"/>
<rect x="642.34" y="812.69" width="19.02" height="18.64" fill="rgb(165,165,165)"/>
<rect x="717.22" y="702.67" width="19.02" height="18.64" fill="rgb(165,165,165)"/>
<rect x="717.22" y="647.66" width="19.02" height="18.64" fill="rgb(165,165,165)"/>
<rect x="642.34" y="574.31" width="19.02" height="18.64" fill="rgb(165,165,165)"/>
<rect x="754.66" y="555.97" width="19.02" height="18.64" fill="rgb(165,165,165)"/>
<rect x="511.3" y="812.69" width="19.02" height="18.64" fill="rgb(160,160,160)"/>
<rect x="586.18" y="537.64" width="19.02" height="18.64" fill="rgb(155,155,155)"/>
<rect x="642.34" y="592.65" width="19.02" height="18.64" fill="rgb(150,150,150)"/>
<rect x="848.26" y="574.31" width="19.02" height="18.64" fill="rgb(150,150,150)"/>
<rect x="829.54" y="555.97" width="19.02" height="18.64" fill="rgb(150,150,150)"/>
<rect x="848.26" y="739.34" width="19.02" height="18.64" fill="rgb(148,148,148)"/>
<rect x="848.26" y="757.68" width="19.02" height="18.64" fill="rgb(140,140,140)"/>
<rect x="642.34" y="647.66" width="19.02" height="18.64" fill="rgb(140,140,140)"/>
<rect x="698.5" y="647.66" width="19.02" height="18.64" fill="rgb(135,135,135)"/>
<rect x="735.94" y="684.33" width="19.02" height="18.64" fill="rgb(130,130,130)"/>
<rect x="623.62" y="665.99" width="19.02" height="18.64" fill="rgb(130,130,130)"/>
<rect x="829.54" y="647.66" width="19.02" height="18.64" fill="rgb(130,130,130)"/>
<rect x="792.1" y="537.64" width="19.02" height="18.64" fill="rgb(130,130,130)"/>
<rect x="604.9" y="537.64" width="19.02" height="18.64" fill="rgb(130,130,130)"/>
<rect x="642.34" y="794.35" width="19.02" height="18.64" fill="rgb(125,125,125)"/>
<rect x="698.5" y="702.67" width="19.02" height="18.64" fill="rgb(125,125,125)"/>
<rect x="829.54" y="629.32" width="19.02" height="18.64" fill="rgb(125,125,125)"/>
<rect x="773.38" y="537.64" width="19.02" height="18.64" fill="rgb(125,125,125)"/>
<rect x="773.38" y="519.3" width="19.02" height="18.64" fill="rgb(125,125,125)"/>
<rect x="773.38" y="721.01" width="19.02" height="18.64" fill="rgb(115,115,115)"/>
<rect x="792.1" y="519.3" width="19.02" height="18.64" fill="rgb(115,115,115)"/>
<rect x="679.78" y="794.35" width="19.02" height="18.64" fill="rgb(110,110,110)"/>
<rect x="679.78" y="776.02" width="19.02" height="18.64" fill="rgb(105,105,105)"/>
<rect x="623.62" y="776.02" width="19.02" height="18.64" fill="rgb(105,105,105)"/>
<rect x="548.74" y="721.01" width="19.02" height="18.64" fill="rgb(105,105,105)"/>
<rect x="829.54" y="721.01" width="19.02" height="18.64" fill="rgb(100,100,100)"/>
<rect x="586.18" y="721.01" width="19.02" height="18.64" fill="rgb(100,100,100)"/>
<rect x="530.02" y="812.69" width="19.02" height="18.64" fill="rgb(95,95,95)"/>
<rect x="698.5" y="812.69" width="19.02" height="18.64" fill="rgb(90,90,90)"/>
<rect x="642.34" y="776.02" width="19.02" height="18.64" fill="rgb(90,90,90)"/>
<rect x="735.94" y="519.3" width="19.02" height="18.64" fill="rgb(90,90,90)"/>
<rect x="754.66" y="537.64" width="19.02" height="18.64" fill="rgb(88,88,88)"/>
<rect x="717.22" y="812.69" width="19.02" height="18.64" fill="rgb(80,80,80)"/>
<rect x="623.62" y="812.69" width="19.02" height="18.64" fill="rgb(80,80,80)"/>
<rect x="623.62" y="794.35" width="19.02" height="18.64" fill="rgb(80,80,80)"/>
<rect x="567.46" y="555.97" width="19.02" height="18.64" fill="rgb(80,80,80)"/>
<rect x="717.22" y="849.36" width="19.02" height="18.64" fill="rgb(75,75,75)"/>
<rect x="773.38" y="684.33" width="19.02" height="18.64" fill="rgb(75,75,75)"/>
<rect x="511.3" y="665.99" width="19.02" height="18.64" fill="rgb(70,70,70)"/>
<rect x="829.54" y="776.02" width="19.02" height="18.64" fill="rgb(68,68,68)"/>
<rect x="792.1" y="684.33" width="19.02" height="18.64" fill="rgb(68,68,68)"/>
<rect x="735.94" y="537.64" width="19.02" height="18.64" fill="rgb(65,65,65)"/>
<rect x="623.62" y="647.66" width="19.02" height="18.64" fill="rgb(62,62,62)"/>
<rect x="829.54" y="794.35" width="19.02" height="18.64" fill="rgb(60,60,60)"/>
<rect x="604.9" y="739.34" width="19.02" height="18.64" fill="rgb(60,60,60)"/>
<rect x="866.98" y="629.32" width="19.02" height="18.64" fill="rgb(60,60,60)"/>
<rect x="848.26" y="812.69" width="19.02" height="18.64" fill="rgb(55,55,55)"/>
<rect x="810.82" y="721.01" width="19.02" height="18.64" fill="rgb(55,55,55)"/>
<rect x="567.46" y="721.01" width="19.02" height="18.64" fill="rgb(55,55,55)"/>
<rect x="848.26" y="647.66" width="19.02" height="18.64" fill="rgb(55,55,55)"/>
<rect x="530.02" y="665.99" width="19.02" height="18.64" fill="rgb(50,50,50)"/>
<rect x="623.62" y="629.32" width="19.02" height="18.64" fill="rgb(50,50,50)"/>
<rect x="698.5" y="849.36" width="19.02" height="18.64" fill="rgb(48,48,48)"/>
<rect x="604.9" y="757.68" width="19.02" height="18.64" fill="rgb(45,45,45)"/>
<rect x="586.18" y="757.68" width="19.02" height="18.64" fill="rgb(45,45,45)"/>
<rect x="829.54" y="592.65" width="19.02" height="18.64" fill="rgb(45,45,45)"/>
<rect x="604.9" y="721.01" width="19.02" height="18.64" fill="rgb(42,42,42)"/>
<rect x="754.66" y="702.67" width="19.02" height="18.64" fill="rgb(40,40,40)"/>
<rect x="642.34" y="629.32" width="19.02" height="18.64" fill="rgb(35,35,35)"/>
<rect x="679.78" y="629.32" width="19.02" height="18.64" fill="rgb(32,32,32)"/>
<rect x="642.34" y="610.98" width="19.02" height="18.64" fill="rgb(32,32,32)"/>
<rect x="586.18" y="739.34" width="19.02" height="18.64" fill="rgb(30,30,30)"/>
<rect x="810.82" y="555.97" width="19.02" height="18.64" fill="rgb(30,30,30)"/>
<rect x="548.74" y="537.64" width="19.02" height="18.64" fill="rgb(28,28,28)"/>
<rect x="717.22" y="831.03" width="19.02" height="18.64" fill="rgb(25,25,25)"/>
<rect x="661.06" y="794.35" width="19.02" height="18.64" fill="rgb(25,25,25)"/>
<rect x="661.06" y="776.02" width="19.02" height="18.64" fill="rgb(25,25,25)"/>
<rect x="679.78" y="610.98" width="19.02" height="18.64" fill="rgb(25,25,25)"/>
<rect x="848.26" y="610.98" width="19.02" height="18.64" fill="rgb(22,22,22)"/>
<rect x="623.62" y="610.98" width="19.02" height="18.64" fill="rgb(22,22,22)"/>
<rect x="735.94" y="721.01" width="19.02" height="18.64" fill="rgb(20,20,20)"/>
<rect x="679.78" y="647.66" width="19.02" height="18.64" fill="rgb(20,20,20)"/>
<rect x="866.98" y="665.99" width="19.02" height="18.64" fill="rgb(18,18,18)"/>
<rect x="866.98" y="610.98" width="19.02" height="18.64" fill="rgb(12,12,12)"/>
<rect x="567.46" y="702.67" width="19.02" height="18.64" fill="rgb(8,8,8)"/>
<rect x="810.82" y="592.65" width="19.02" height="18.64" fill="rgb(8,8,8)"/>
<rect x="530.02" y="849.36" width="19.02" height="18.64" fill="rgb(0,0,0)"/>
<rect x="511.3" y="849.36" width="19.02" height="18.64" fill="rgb(0,0,0)"/>
<rect x="698.5" y="831.03" width="19.02" height="18.64" fill="rgb(0,0,0)"/>
<rect x="530.02" y="831.03" width="19.02" height="18.64" fill="rgb(0,0,0)"/>
<rect x="511.3" y="831.03" width="19.02" height="18.64" fill="rgb(0,0,0)"/>
<rect x="866.98" y="812.69" width="19.02" height="18.64" fill="rgb(0,0,0)"/>
<rect x="866.98" y="794.35" width="19.02" height="18.64" fill="rgb(0,0,0)"/>
<rect x="848.26" y="794.35" width="19.02" height="18.64" fill="rgb(0,0,0)"/>
<rect x="866.98" y="776.02" width="19.02" height="18.64" fill="rgb(0,0,0)"/>
<rect x="848.26" y="776.02" width="19.02" height="18.64" fill="rgb(0,0,0)"/>
<rect x="829.54" y="757.68" width="19.02" height="18.64" fill="rgb(0,0,0)"/>
<rect x="810.82" y="757.68" width="19.02" height="18.64" fill="rgb(0,0,0)"/>
<rect x="829.54" y="739.34" width="19.02" height="18.64" fill="rgb(0,0,0)"/>
<rect x="810.82" y="739.34" width="19.02" height="18.64" fill="rgb(0,0,0)"/>
<rect x="754.66" y="721.01" width="19.02" height="18.64" fill="rgb(0,0,0)"/>
<rect x="792.1" y="702.67" width="19.02" height="18.64" fill="rgb(0,0,0)"/>
<rect x="773.38" y="702.67" width="19.02" height="18.64" fill="rgb(0,0,0)"/>
<rect x="735.94" y="702.67" width="19.02" height="18.64" fill="rgb(0,0,0)"/>
<rect x="548.74" y="702.67" width="19.02" height="18.64" fill="rgb(0,0,0)"/>
<rect x="717.22" y="684.33" width="19.02" height="18.64" fill="rgb(0,0,0)"/>
<rect x="698.5" y="684.33" width="19.02" height="18.64" fill="rgb(0,0,0)"/>
<rect x="530.02" y="684.33" width="19.02" height="18.64" fill="rgb(0,0,0)"/>
<rect x="511.3" y="684.33" width="19.02" height="18.64" fill="rgb(0,0,0)"/>
<rect x="717.22" y="665.99" width="19.02" height="18.64" fill="rgb(0,0,0)"/>
<rect x="698.5" y="665.99" width="19.02" height="18.64" fill="rgb(0,0,0)"/>
<rect x="866.98" y="647.66" width="19.02" height="18.64" fill="rgb(0,0,0)"/>
<rect x="661.06" y="647.66" width="19.02" height="18.64" fill="rgb(0,0,0)"/>
<rect x="848.26" y="629.32" width="19.02" height="18.64" fill="rgb(0,0,0)"/>
<rect x="661.06" y="629.32" width="19.02" height="18.64" fill="rgb(0,0,0)"/>
<rect x="661.06" y="610.98" width="19.02" height="18.64" fill="rgb(0,0,0)"/>
<rect x="604.9" y="592.65" width="19.02" height="18.64" fill="rgb(0,0,0)"/>
<rect x="586.18" y="592.65" width="19.02" height="18.64" fill="rgb(0,0,0)"/>
<rect x="829.54" y="574.31" width="19.02" height="18.64" fill="rgb(0,0,0)"/>
<rect x="810.82" y="574.31" width="19.02" height="18.64" fill="rgb(0,0,0)"/>
<rect x="604.9" y="574.31" width="19.02" height="18.64" fill="rgb(0,0,0)"/>
<rect x="586.18" y="574.31" width="19.02" height="18.64" fill="rgb(0,0,0)"/>
<rect x="604.9" y="555.97" width="19.02" height="18.64" fill="rgb(0,0,0)"/>
<rect x="586.18" y="555.97" width="19.02" height="18.64" fill="rgb(0,0,0)"/>
<rect x="567.46" y="537.64" width="19.02" height="18.64" fill="rgb(0,0,0)"/>
<rect x="567.46" y="519.3" width="19.02" height="18.64" fill="rgb(0,0,0)"/>
<rect x="548.74" y="519.3" width="19.02" height="18.64" fill="rgb(0,0,0)"/>
</g>
<rect x="511.3" y="519.3" width="374.4" height="348.4" fill="none" stroke="#111" stroke-width="1.1"/>
<text x="714.2" y="506.7" font-size="29" fill="#e03a2a" text-anchor="middle">PFNd.R</text>
<text x="709.9" y="934.3" font-size="29" fill="#1a1a1a" text-anchor="middle">right PB</text>
<rect x="509.3" y="874.1" width="19.6" height="25.4" rx="8.2" ry="8.8" fill="#9fb03a"/>
<rect x="528.27" y="874.1" width="19.6" height="25.4" rx="8.2" ry="8.8" fill="#9fb03a"/>
<rect x="547.24" y="874.1" width="19.6" height="25.4" rx="8.2" ry="8.8" fill="#45b05c"/>
<rect x="566.21" y="874.1" width="19.6" height="25.4" rx="8.2" ry="8.8" fill="#45b05c"/>
<rect x="585.17" y="874.1" width="19.6" height="25.4" rx="8.2" ry="8.8" fill="#4a9ad8"/>
<rect x="604.14" y="874.1" width="19.6" height="25.4" rx="8.2" ry="8.8" fill="#4a9ad8"/>
<rect x="623.11" y="874.1" width="19.6" height="25.4" rx="8.2" ry="8.8" fill="#34509f"/>
<rect x="642.08" y="874.1" width="19.6" height="25.4" rx="8.2" ry="8.8" fill="#34509f"/>
<rect x="661.05" y="874.1" width="19.6" height="25.4" rx="8.2" ry="8.8" fill="#34509f"/>
<rect x="680.02" y="874.1" width="19.6" height="25.4" rx="8.2" ry="8.8" fill="#34509f"/>
<rect x="698.98" y="874.1" width="19.6" height="25.4" rx="8.2" ry="8.8" fill="#7d52a3"/>
<rect x="717.95" y="874.1" width="19.6" height="25.4" rx="8.2" ry="8.8" fill="#7d52a3"/>
<rect x="736.92" y="874.1" width="19.6" height="25.4" rx="8.2" ry="8.8" fill="#c94fa5"/>
<rect x="755.89" y="874.1" width="19.6" height="25.4" rx="8.2" ry="8.8" fill="#c94fa5"/>
<rect x="774.86" y="874.1" width="19.6" height="25.4" rx="8.2" ry="8.8" fill="#c94fa5"/>
<rect x="793.83" y="874.1" width="19.6" height="25.4" rx="8.2" ry="8.8" fill="#c94fa5"/>
<rect x="812.79" y="874.1" width="19.6" height="25.4" rx="8.2" ry="8.8" fill="#e83b26"/>
<rect x="831.76" y="874.1" width="19.6" height="25.4" rx="8.2" ry="8.8" fill="#e83b26"/>
<rect x="850.73" y="874.1" width="19.6" height="25.4" rx="8.2" ry="8.8" fill="#d9962f"/>
<rect x="869.7" y="874.1" width="19.6" height="25.4" rx="8.2" ry="8.8" fill="#d9962f"/>
<text x="519.1" y="895.2" font-size="22.8" text-anchor="middle" fill="#fff">9</text>
<text x="538.07" y="895.2" font-size="22.8" text-anchor="middle" fill="#fff">9</text>
<text x="557.04" y="895.2" font-size="22.8" text-anchor="middle" fill="#fff">2</text>
<text x="576.01" y="895.2" font-size="22.8" text-anchor="middle" fill="#fff">2</text>
<text x="594.97" y="895.2" font-size="22.8" text-anchor="middle" fill="#fff">3</text>
<text x="613.94" y="895.2" font-size="22.8" text-anchor="middle" fill="#fff">3</text>
<text x="632.91" y="895.2" font-size="22.8" text-anchor="middle" fill="#fff">4</text>
<text x="651.88" y="895.2" font-size="22.8" text-anchor="middle" fill="#fff">4</text>
<text x="670.85" y="895.2" font-size="22.8" text-anchor="middle" fill="#fff">4</text>
<text x="689.82" y="895.2" font-size="22.8" text-anchor="middle" fill="#fff">4</text>
<text x="708.78" y="895.2" font-size="22.8" text-anchor="middle" fill="#fff">5</text>
<text x="727.75" y="895.2" font-size="22.8" text-anchor="middle" fill="#fff">5</text>
<text x="746.72" y="895.2" font-size="22.8" text-anchor="middle" fill="#fff">6</text>
<text x="765.69" y="895.2" font-size="22.8" text-anchor="middle" fill="#fff">6</text>
<text x="784.66" y="895.2" font-size="22.8" text-anchor="middle" fill="#fff">6</text>
<text x="803.63" y="895.2" font-size="22.8" text-anchor="middle" fill="#fff">6</text>
<text x="822.59" y="895.2" font-size="22.8" text-anchor="middle" fill="#fff">7</text>
<text x="841.56" y="895.2" font-size="22.8" text-anchor="middle" fill="#fff">7</text>
<text x="860.53" y="895.2" font-size="22.8" text-anchor="middle" fill="#fff">8</text>
<text x="879.5" y="895.2" font-size="22.8" text-anchor="middle" fill="#fff">8</text>
<g shape-rendering="crispEdges">
<rect x="1074.03" y="647.66" width="19.07" height="18.64" fill="rgb(252,252,252)"/>
<rect x="1055.26" y="555.97" width="19.07" height="18.64" fill="rgb(247,247,247)"/>
<rect x="923.87" y="812.69" width="19.07" height="18.64" fill="rgb(243,243,243)"/>
<rect x="998.95" y="592.65" width="19.07" height="18.64" fill="rgb(243,243,243)"/>
<rect x="961.41" y="537.64" width="19.07" height="18.64" fill="rgb(243,243,243)"/>
<rect x="980.18" y="537.64" width="19.07" height="18.64" fill="rgb(235,235,235)"/>
<rect x="980.18" y="812.69" width="19.07" height="18.64" fill="rgb(230,230,230)"/>
<rect x="942.64" y="757.68" width="19.07" height="18.64" fill="rgb(230,230,230)"/>
<rect x="980.18" y="519.3" width="19.07" height="18.64" fill="rgb(230,230,230)"/>
<rect x="1055.26" y="574.31" width="19.07" height="18.64" fill="rgb(225,225,225)"/>
<rect x="961.41" y="812.69" width="19.07" height="18.64" fill="rgb(222,222,222)"/>
<rect x="998.95" y="555.97" width="19.07" height="18.64" fill="rgb(222,222,222)"/>
<rect x="998.95" y="574.31" width="19.07" height="18.64" fill="rgb(218,218,218)"/>
<rect x="942.64" y="739.34" width="19.07" height="18.64" fill="rgb(200,200,200)"/>
<rect x="1055.26" y="684.33" width="19.07" height="18.64" fill="rgb(200,200,200)"/>
<rect x="1036.49" y="610.98" width="19.07" height="18.64" fill="rgb(200,200,200)"/>
<rect x="1036.49" y="629.32" width="19.07" height="18.64" fill="rgb(195,195,195)"/>
<rect x="980.18" y="831.03" width="19.07" height="18.64" fill="rgb(192,192,192)"/>
<rect x="1036.49" y="555.97" width="19.07" height="18.64" fill="rgb(188,188,188)"/>
<rect x="998.95" y="519.3" width="19.07" height="18.64" fill="rgb(185,185,185)"/>
<rect x="923.87" y="721.01" width="19.07" height="18.64" fill="rgb(178,178,178)"/>
<rect x="1017.72" y="555.97" width="19.07" height="18.64" fill="rgb(178,178,178)"/>
<rect x="923.87" y="776.02" width="19.07" height="18.64" fill="rgb(165,165,165)"/>
<rect x="961.41" y="831.03" width="19.07" height="18.64" fill="rgb(158,158,158)"/>
<rect x="1036.49" y="647.66" width="19.07" height="18.64" fill="rgb(158,158,158)"/>
<rect x="980.18" y="849.36" width="19.07" height="18.64" fill="rgb(150,150,150)"/>
<rect x="942.64" y="831.03" width="19.07" height="18.64" fill="rgb(150,150,150)"/>
<rect x="1017.72" y="647.66" width="19.07" height="18.64" fill="rgb(150,150,150)"/>
<rect x="961.41" y="519.3" width="19.07" height="18.64" fill="rgb(140,140,140)"/>
<rect x="923.87" y="739.34" width="19.07" height="18.64" fill="rgb(130,130,130)"/>
<rect x="1036.49" y="592.65" width="19.07" height="18.64" fill="rgb(130,130,130)"/>
<rect x="942.64" y="794.35" width="19.07" height="18.64" fill="rgb(128,128,128)"/>
<rect x="1017.72" y="629.32" width="19.07" height="18.64" fill="rgb(128,128,128)"/>
<rect x="1017.72" y="610.98" width="19.07" height="18.64" fill="rgb(128,128,128)"/>
<rect x="1036.49" y="574.31" width="19.07" height="18.64" fill="rgb(128,128,128)"/>
<rect x="1074.03" y="665.99" width="19.07" height="18.64" fill="rgb(118,118,118)"/>
<rect x="923.87" y="794.35" width="19.07" height="18.64" fill="rgb(115,115,115)"/>
<rect x="1017.72" y="592.65" width="19.07" height="18.64" fill="rgb(115,115,115)"/>
<rect x="1017.72" y="574.31" width="19.07" height="18.64" fill="rgb(108,108,108)"/>
<rect x="961.41" y="849.36" width="19.07" height="18.64" fill="rgb(100,100,100)"/>
<rect x="923.87" y="757.68" width="19.07" height="18.64" fill="rgb(100,100,100)"/>
<rect x="942.64" y="812.69" width="19.07" height="18.64" fill="rgb(88,88,88)"/>
<rect x="905.1" y="721.01" width="19.07" height="18.64" fill="rgb(70,70,70)"/>
<rect x="998.95" y="537.64" width="19.07" height="18.64" fill="rgb(70,70,70)"/>
<rect x="1055.26" y="665.99" width="19.07" height="18.64" fill="rgb(50,50,50)"/>
<rect x="1055.26" y="629.32" width="19.07" height="18.64" fill="rgb(50,50,50)"/>
<rect x="1055.26" y="647.66" width="19.07" height="18.64" fill="rgb(22,22,22)"/>
<rect x="1055.26" y="610.98" width="19.07" height="18.64" fill="rgb(15,15,15)"/>
<rect x="942.64" y="776.02" width="19.07" height="18.64" fill="rgb(10,10,10)"/>
<rect x="905.1" y="702.67" width="19.07" height="18.64" fill="rgb(0,0,0)"/>
<rect x="1074.03" y="684.33" width="19.07" height="18.64" fill="rgb(0,0,0)"/>
</g>
<rect x="905.1" y="519.3" width="187.7" height="348.4" fill="none" stroke="#111" stroke-width="1.1"/>
<text x="1000.5" y="506.2" font-size="29" fill="#4585bd" text-anchor="middle">PFNv.L</text>
<text x="1004.3" y="934.3" font-size="29" fill="#1a1a1a" text-anchor="middle">left PB</text>
<rect x="904.8" y="874.1" width="19.6" height="25.4" rx="8.2" ry="8.8" fill="#9fb03a"/>
<rect x="923.67" y="874.1" width="19.6" height="25.4" rx="8.2" ry="8.8" fill="#45b05c"/>
<rect x="942.53" y="874.1" width="19.6" height="25.4" rx="8.2" ry="8.8" fill="#4a9ad8"/>
<rect x="961.4" y="874.1" width="19.6" height="25.4" rx="8.2" ry="8.8" fill="#34509f"/>
<rect x="980.27" y="874.1" width="19.6" height="25.4" rx="8.2" ry="8.8" fill="#34509f"/>
<rect x="999.13" y="874.1" width="19.6" height="25.4" rx="8.2" ry="8.8" fill="#7d52a3"/>
<rect x="1018" y="874.1" width="19.6" height="25.4" rx="8.2" ry="8.8" fill="#c94fa5"/>
<rect x="1036.87" y="874.1" width="19.6" height="25.4" rx="8.2" ry="8.8" fill="#c94fa5"/>
<rect x="1055.73" y="874.1" width="19.6" height="25.4" rx="8.2" ry="8.8" fill="#e83b26"/>
<rect x="1074.6" y="874.1" width="19.6" height="25.4" rx="8.2" ry="8.8" fill="#d9962f"/>
<text x="914.6" y="895.2" font-size="22.8" text-anchor="middle" fill="#fff">9</text>
<text x="933.47" y="895.2" font-size="22.8" text-anchor="middle" fill="#fff">8</text>
<text x="952.33" y="895.2" font-size="22.8" text-anchor="middle" fill="#fff">7</text>
<text x="971.2" y="895.2" font-size="22.8" text-anchor="middle" fill="#fff">6</text>
<text x="990.07" y="895.2" font-size="22.8" text-anchor="middle" fill="#fff">6</text>
<text x="1008.93" y="895.2" font-size="22.8" text-anchor="middle" fill="#fff">5</text>
<text x="1027.8" y="895.2" font-size="22.8" text-anchor="middle" fill="#fff">4</text>
<text x="1046.67" y="895.2" font-size="22.8" text-anchor="middle" fill="#fff">4</text>
<text x="1065.53" y="895.2" font-size="22.8" text-anchor="middle" fill="#fff">3</text>
<text x="1084.4" y="895.2" font-size="22.8" text-anchor="middle" fill="#fff">2</text>
<g shape-rendering="crispEdges">
<rect x="1152.44" y="794.35" width="19.07" height="18.64" fill="rgb(252,252,252)"/>
<rect x="1227.52" y="831.03" width="19.07" height="18.64" fill="rgb(250,250,250)"/>
<rect x="1133.67" y="757.68" width="19.07" height="18.64" fill="rgb(247,247,247)"/>
<rect x="1227.52" y="812.69" width="19.07" height="18.64" fill="rgb(243,243,243)"/>
<rect x="1246.29" y="555.97" width="19.07" height="18.64" fill="rgb(243,243,243)"/>
<rect x="1189.98" y="739.34" width="19.07" height="18.64" fill="rgb(238,238,238)"/>
<rect x="1227.52" y="555.97" width="19.07" height="18.64" fill="rgb(238,238,238)"/>
<rect x="1227.52" y="849.36" width="19.07" height="18.64" fill="rgb(235,235,235)"/>
<rect x="1114.9" y="647.66" width="19.07" height="18.64" fill="rgb(235,235,235)"/>
<rect x="1283.83" y="555.97" width="19.07" height="18.64" fill="rgb(235,235,235)"/>
<rect x="1208.75" y="794.35" width="19.07" height="18.64" fill="rgb(230,230,230)"/>
<rect x="1265.06" y="629.32" width="19.07" height="18.64" fill="rgb(230,230,230)"/>
<rect x="1189.98" y="757.68" width="19.07" height="18.64" fill="rgb(228,228,228)"/>
<rect x="1189.98" y="812.69" width="19.07" height="18.64" fill="rgb(225,225,225)"/>
<rect x="1152.44" y="702.67" width="19.07" height="18.64" fill="rgb(225,225,225)"/>
<rect x="1265.06" y="610.98" width="19.07" height="18.64" fill="rgb(222,222,222)"/>
<rect x="1171.21" y="739.34" width="19.07" height="18.64" fill="rgb(215,215,215)"/>
<rect x="1114.9" y="610.98" width="19.07" height="18.64" fill="rgb(212,212,212)"/>
<rect x="1246.29" y="849.36" width="19.07" height="18.64" fill="rgb(205,205,205)"/>
<rect x="1171.21" y="812.69" width="19.07" height="18.64" fill="rgb(205,205,205)"/>
<rect x="1208.75" y="776.02" width="19.07" height="18.64" fill="rgb(205,205,205)"/>
<rect x="1133.67" y="721.01" width="19.07" height="18.64" fill="rgb(200,200,200)"/>
<rect x="1265.06" y="647.66" width="19.07" height="18.64" fill="rgb(200,200,200)"/>
<rect x="1152.44" y="739.34" width="19.07" height="18.64" fill="rgb(192,192,192)"/>
<rect x="1283.83" y="665.99" width="19.07" height="18.64" fill="rgb(185,185,185)"/>
<rect x="1246.29" y="537.64" width="19.07" height="18.64" fill="rgb(185,185,185)"/>
<rect x="1171.21" y="757.68" width="19.07" height="18.64" fill="rgb(180,180,180)"/>
<rect x="1227.52" y="537.64" width="19.07" height="18.64" fill="rgb(178,178,178)"/>
<rect x="1227.52" y="519.3" width="19.07" height="18.64" fill="rgb(178,178,178)"/>
<rect x="1208.75" y="849.36" width="19.07" height="18.64" fill="rgb(155,155,155)"/>
<rect x="1283.83" y="592.65" width="19.07" height="18.64" fill="rgb(150,150,150)"/>
<rect x="1189.98" y="776.02" width="19.07" height="18.64" fill="rgb(145,145,145)"/>
<rect x="1152.44" y="757.68" width="19.07" height="18.64" fill="rgb(140,140,140)"/>
<rect x="1265.06" y="537.64" width="19.07" height="18.64" fill="rgb(140,140,140)"/>
<rect x="1246.29" y="519.3" width="19.07" height="18.64" fill="rgb(140,140,140)"/>
<rect x="1265.06" y="555.97" width="19.07" height="18.64" fill="rgb(115,115,115)"/>
<rect x="1189.98" y="794.35" width="19.07" height="18.64" fill="rgb(108,108,108)"/>
<rect x="1133.67" y="702.67" width="19.07" height="18.64" fill="rgb(108,108,108)"/>
<rect x="1265.06" y="592.65" width="19.07" height="18.64" fill="rgb(108,108,108)"/>
<rect x="1283.83" y="574.31" width="19.07" height="18.64" fill="rgb(108,108,108)"/>
<rect x="1171.21" y="794.35" width="19.07" height="18.64" fill="rgb(105,105,105)"/>
<rect x="1265.06" y="574.31" width="19.07" height="18.64" fill="rgb(100,100,100)"/>
<rect x="1171.21" y="776.02" width="19.07" height="18.64" fill="rgb(98,98,98)"/>
<rect x="1208.75" y="831.03" width="19.07" height="18.64" fill="rgb(68,68,68)"/>
<rect x="1114.9" y="665.99" width="19.07" height="18.64" fill="rgb(50,50,50)"/>
<rect x="1114.9" y="684.33" width="19.07" height="18.64" fill="rgb(38,38,38)"/>
<rect x="1152.44" y="721.01" width="19.07" height="18.64" fill="rgb(22,22,22)"/>
<rect x="1208.75" y="812.69" width="19.07" height="18.64" fill="rgb(0,0,0)"/>
<rect x="1283.83" y="647.66" width="19.07" height="18.64" fill="rgb(0,0,0)"/>
<rect x="1283.83" y="629.32" width="19.07" height="18.64" fill="rgb(0,0,0)"/>
<rect x="1283.83" y="610.98" width="19.07" height="18.64" fill="rgb(0,0,0)"/>
</g>
<rect x="1114.9" y="519.3" width="187.7" height="348.4" fill="none" stroke="#111" stroke-width="1.1"/>
<text x="1207.9" y="506.2" font-size="29" fill="#4585bd" text-anchor="middle">PFNv.R</text>
<text x="1208.2" y="934.3" font-size="29" fill="#1a1a1a" text-anchor="middle">right PB</text>
<rect x="1114.6" y="874.1" width="19.6" height="25.4" rx="8.2" ry="8.8" fill="#9fb03a"/>
<rect x="1133.53" y="874.1" width="19.6" height="25.4" rx="8.2" ry="8.8" fill="#45b05c"/>
<rect x="1152.47" y="874.1" width="19.6" height="25.4" rx="8.2" ry="8.8" fill="#4a9ad8"/>
<rect x="1171.4" y="874.1" width="19.6" height="25.4" rx="8.2" ry="8.8" fill="#34509f"/>
<rect x="1190.33" y="874.1" width="19.6" height="25.4" rx="8.2" ry="8.8" fill="#34509f"/>
<rect x="1209.27" y="874.1" width="19.6" height="25.4" rx="8.2" ry="8.8" fill="#7d52a3"/>
<rect x="1228.2" y="874.1" width="19.6" height="25.4" rx="8.2" ry="8.8" fill="#c94fa5"/>
<rect x="1247.13" y="874.1" width="19.6" height="25.4" rx="8.2" ry="8.8" fill="#c94fa5"/>
<rect x="1266.07" y="874.1" width="19.6" height="25.4" rx="8.2" ry="8.8" fill="#e83b26"/>
<rect x="1285" y="874.1" width="19.6" height="25.4" rx="8.2" ry="8.8" fill="#d9962f"/>
<text x="1124.4" y="895.2" font-size="22.8" text-anchor="middle" fill="#fff">9</text>
<text x="1143.33" y="895.2" font-size="22.8" text-anchor="middle" fill="#fff">2</text>
<text x="1162.27" y="895.2" font-size="22.8" text-anchor="middle" fill="#fff">3</text>
<text x="1181.2" y="895.2" font-size="22.8" text-anchor="middle" fill="#fff">4</text>
<text x="1200.13" y="895.2" font-size="22.8" text-anchor="middle" fill="#fff">4</text>
<text x="1219.07" y="895.2" font-size="22.8" text-anchor="middle" fill="#fff">5</text>
<text x="1238" y="895.2" font-size="22.8" text-anchor="middle" fill="#fff">6</text>
<text x="1256.93" y="895.2" font-size="22.8" text-anchor="middle" fill="#fff">6</text>
<text x="1275.87" y="895.2" font-size="22.8" text-anchor="middle" fill="#fff">7</text>
<text x="1294.8" y="895.2" font-size="22.8" text-anchor="middle" fill="#fff">8</text>
<g shape-rendering="crispEdges">
<rect x="424.2" y="1098.97" width="19.07" height="18.76" fill="rgb(254,254,254)"/>
<rect x="424.2" y="1283.55" width="19.07" height="18.76" fill="rgb(253,253,253)"/>
<rect x="292.85" y="1135.89" width="19.07" height="18.76" fill="rgb(253,253,253)"/>
<rect x="217.79" y="1080.52" width="19.07" height="18.76" fill="rgb(253,253,253)"/>
<rect x="405.44" y="1320.47" width="19.07" height="18.76" fill="rgb(252,252,252)"/>
<rect x="311.62" y="1320.47" width="19.07" height="18.76" fill="rgb(252,252,252)"/>
<rect x="180.26" y="1320.47" width="19.07" height="18.76" fill="rgb(252,252,252)"/>
<rect x="161.5" y="1302.01" width="19.07" height="18.76" fill="rgb(252,252,252)"/>
<rect x="292.85" y="1246.64" width="19.07" height="18.76" fill="rgb(252,252,252)"/>
<rect x="274.08" y="1246.64" width="19.07" height="18.76" fill="rgb(252,252,252)"/>
<rect x="180.26" y="1154.35" width="19.07" height="18.76" fill="rgb(252,252,252)"/>
<rect x="367.91" y="1062.06" width="19.07" height="18.76" fill="rgb(252,252,252)"/>
<rect x="330.38" y="1191.26" width="19.07" height="18.76" fill="rgb(250,250,250)"/>
<rect x="405.44" y="1172.81" width="19.07" height="18.76" fill="rgb(248,248,248)"/>
<rect x="386.68" y="1172.81" width="19.07" height="18.76" fill="rgb(248,248,248)"/>
<rect x="330.38" y="1357.38" width="19.07" height="18.76" fill="rgb(247,247,247)"/>
<rect x="199.03" y="1283.55" width="19.07" height="18.76" fill="rgb(247,247,247)"/>
<rect x="311.62" y="1191.26" width="19.07" height="18.76" fill="rgb(247,247,247)"/>
<rect x="236.56" y="1062.06" width="19.07" height="18.76" fill="rgb(246,246,246)"/>
<rect x="199.03" y="1357.38" width="19.07" height="18.76" fill="rgb(245,245,245)"/>
<rect x="349.14" y="1338.93" width="19.07" height="18.76" fill="rgb(245,245,245)"/>
<rect x="292.85" y="1302.01" width="19.07" height="18.76" fill="rgb(245,245,245)"/>
<rect x="274.08" y="1302.01" width="19.07" height="18.76" fill="rgb(245,245,245)"/>
<rect x="405.44" y="1154.35" width="19.07" height="18.76" fill="rgb(245,245,245)"/>
<rect x="161.5" y="1043.6" width="19.07" height="18.76" fill="rgb(245,245,245)"/>
<rect x="442.97" y="1265.09" width="19.07" height="18.76" fill="rgb(243,243,243)"/>
<rect x="330.38" y="1098.97" width="19.07" height="18.76" fill="rgb(243,243,243)"/>
<rect x="442.97" y="1283.55" width="19.07" height="18.76" fill="rgb(242,242,242)"/>
<rect x="199.03" y="1265.09" width="19.07" height="18.76" fill="rgb(242,242,242)"/>
<rect x="274.08" y="1154.35" width="19.07" height="18.76" fill="rgb(242,242,242)"/>
<rect x="292.85" y="1320.47" width="19.07" height="18.76" fill="rgb(238,238,238)"/>
<rect x="386.68" y="1302.01" width="19.07" height="18.76" fill="rgb(238,238,238)"/>
<rect x="180.26" y="1135.89" width="19.07" height="18.76" fill="rgb(238,238,238)"/>
<rect x="217.79" y="1357.38" width="19.07" height="18.76" fill="rgb(235,235,235)"/>
<rect x="461.74" y="1338.93" width="19.07" height="18.76" fill="rgb(235,235,235)"/>
<rect x="442.97" y="1375.84" width="19.07" height="18.76" fill="rgb(232,232,232)"/>
<rect x="442.97" y="1209.72" width="19.07" height="18.76" fill="rgb(232,232,232)"/>
<rect x="442.97" y="1098.97" width="19.07" height="18.76" fill="rgb(232,232,232)"/>
<rect x="311.62" y="1098.97" width="19.07" height="18.76" fill="rgb(232,232,232)"/>
<rect x="161.5" y="1320.47" width="19.07" height="18.76" fill="rgb(230,230,230)"/>
<rect x="405.44" y="1302.01" width="19.07" height="18.76" fill="rgb(230,230,230)"/>
<rect x="349.14" y="1246.64" width="19.07" height="18.76" fill="rgb(230,230,230)"/>
<rect x="367.91" y="1172.81" width="19.07" height="18.76" fill="rgb(230,230,230)"/>
<rect x="311.62" y="1117.43" width="19.07" height="18.76" fill="rgb(230,230,230)"/>
<rect x="386.68" y="1062.06" width="19.07" height="18.76" fill="rgb(230,230,230)"/>
<rect x="161.5" y="1062.06" width="19.07" height="18.76" fill="rgb(230,230,230)"/>
<rect x="274.08" y="1043.6" width="19.07" height="18.76" fill="rgb(230,230,230)"/>
<rect x="311.62" y="1375.84" width="19.07" height="18.76" fill="rgb(225,225,225)"/>
<rect x="330.38" y="1283.55" width="19.07" height="18.76" fill="rgb(225,225,225)"/>
<rect x="386.68" y="1154.35" width="19.07" height="18.76" fill="rgb(225,225,225)"/>
<rect x="405.44" y="1135.89" width="19.07" height="18.76" fill="rgb(225,225,225)"/>
<rect x="199.03" y="1117.43" width="19.07" height="18.76" fill="rgb(225,225,225)"/>
<rect x="199.03" y="1098.97" width="19.07" height="18.76" fill="rgb(225,225,225)"/>
<rect x="292.85" y="1043.6" width="19.07" height="18.76" fill="rgb(222,222,222)"/>
<rect x="236.56" y="1043.6" width="19.07" height="18.76" fill="rgb(222,222,222)"/>
<rect x="255.32" y="1154.35" width="19.07" height="18.76" fill="rgb(220,220,220)"/>
<rect x="255.32" y="1043.6" width="19.07" height="18.76" fill="rgb(212,212,212)"/>
<rect x="236.56" y="1338.93" width="19.07" height="18.76" fill="rgb(210,210,210)"/>
<rect x="217.79" y="1283.55" width="19.07" height="18.76" fill="rgb(210,210,210)"/>
<rect x="161.5" y="1154.35" width="19.07" height="18.76" fill="rgb(210,210,210)"/>
<rect x="386.68" y="1080.52" width="19.07" height="18.76" fill="rgb(210,210,210)"/>
<rect x="386.68" y="1320.47" width="19.07" height="18.76" fill="rgb(205,205,205)"/>
<rect x="217.79" y="1265.09" width="19.07" height="18.76" fill="rgb(205,205,205)"/>
<rect x="461.74" y="1191.26" width="19.07" height="18.76" fill="rgb(205,205,205)"/>
<rect x="367.91" y="1135.89" width="19.07" height="18.76" fill="rgb(205,205,205)"/>
<rect x="161.5" y="1135.89" width="19.07" height="18.76" fill="rgb(205,205,205)"/>
<rect x="330.38" y="1117.43" width="19.07" height="18.76" fill="rgb(205,205,205)"/>
<rect x="330.38" y="1265.09" width="19.07" height="18.76" fill="rgb(200,200,200)"/>
<rect x="292.85" y="1154.35" width="19.07" height="18.76" fill="rgb(200,200,200)"/>
<rect x="349.14" y="1135.89" width="19.07" height="18.76" fill="rgb(200,200,200)"/>
<rect x="367.91" y="1098.97" width="19.07" height="18.76" fill="rgb(200,200,200)"/>
<rect x="236.56" y="1228.18" width="19.07" height="18.76" fill="rgb(195,195,195)"/>
<rect x="199.03" y="1191.26" width="19.07" height="18.76" fill="rgb(195,195,195)"/>
<rect x="349.14" y="1172.81" width="19.07" height="18.76" fill="rgb(195,195,195)"/>
<rect x="292.85" y="1172.81" width="19.07" height="18.76" fill="rgb(195,195,195)"/>
<rect x="255.32" y="1172.81" width="19.07" height="18.76" fill="rgb(195,195,195)"/>
<rect x="217.79" y="1117.43" width="19.07" height="18.76" fill="rgb(195,195,195)"/>
<rect x="217.79" y="1098.97" width="19.07" height="18.76" fill="rgb(195,195,195)"/>
<rect x="349.14" y="1080.52" width="19.07" height="18.76" fill="rgb(195,195,195)"/>
<rect x="330.38" y="1375.84" width="19.07" height="18.76" fill="rgb(190,190,190)"/>
<rect x="311.62" y="1283.55" width="19.07" height="18.76" fill="rgb(185,185,185)"/>
<rect x="311.62" y="1265.09" width="19.07" height="18.76" fill="rgb(185,185,185)"/>
<rect x="349.14" y="1154.35" width="19.07" height="18.76" fill="rgb(185,185,185)"/>
<rect x="180.26" y="1062.06" width="19.07" height="18.76" fill="rgb(185,185,185)"/>
<rect x="255.32" y="1228.18" width="19.07" height="18.76" fill="rgb(180,180,180)"/>
<rect x="274.08" y="1172.81" width="19.07" height="18.76" fill="rgb(180,180,180)"/>
<rect x="142.73" y="1080.52" width="19.07" height="18.76" fill="rgb(180,180,180)"/>
<rect x="292.85" y="1228.18" width="19.07" height="18.76" fill="rgb(178,178,178)"/>
<rect x="274.08" y="1228.18" width="19.07" height="18.76" fill="rgb(178,178,178)"/>
<rect x="292.85" y="1357.38" width="19.07" height="18.76" fill="rgb(175,175,175)"/>
<rect x="161.5" y="1246.64" width="19.07" height="18.76" fill="rgb(175,175,175)"/>
<rect x="367.91" y="1246.64" width="19.07" height="18.76" fill="rgb(172,172,172)"/>
<rect x="367.91" y="1117.43" width="19.07" height="18.76" fill="rgb(170,170,170)"/>
<rect x="424.2" y="1375.84" width="19.07" height="18.76" fill="rgb(165,165,165)"/>
<rect x="142.73" y="1246.64" width="19.07" height="18.76" fill="rgb(165,165,165)"/>
<rect x="424.2" y="1209.72" width="19.07" height="18.76" fill="rgb(165,165,165)"/>
<rect x="405.44" y="1246.64" width="19.07" height="18.76" fill="rgb(160,160,160)"/>
<rect x="236.56" y="1375.84" width="19.07" height="18.76" fill="rgb(155,155,155)"/>
<rect x="274.08" y="1357.38" width="19.07" height="18.76" fill="rgb(155,155,155)"/>
<rect x="349.14" y="1302.01" width="19.07" height="18.76" fill="rgb(155,155,155)"/>
<rect x="349.14" y="1320.47" width="19.07" height="18.76" fill="rgb(150,150,150)"/>
<rect x="292.85" y="1338.93" width="19.07" height="18.76" fill="rgb(145,145,145)"/>
<rect x="367.91" y="1154.35" width="19.07" height="18.76" fill="rgb(145,145,145)"/>
<rect x="442.97" y="1357.38" width="19.07" height="18.76" fill="rgb(140,140,140)"/>
<rect x="255.32" y="1338.93" width="19.07" height="18.76" fill="rgb(140,140,140)"/>
<rect x="311.62" y="1080.52" width="19.07" height="18.76" fill="rgb(140,140,140)"/>
<rect x="292.85" y="1375.84" width="19.07" height="18.76" fill="rgb(130,130,130)"/>
<rect x="367.91" y="1302.01" width="19.07" height="18.76" fill="rgb(125,125,125)"/>
<rect x="180.26" y="1246.64" width="19.07" height="18.76" fill="rgb(125,125,125)"/>
<rect x="274.08" y="1375.84" width="19.07" height="18.76" fill="rgb(120,120,120)"/>
<rect x="274.08" y="1338.93" width="19.07" height="18.76" fill="rgb(120,120,120)"/>
<rect x="424.2" y="1357.38" width="19.07" height="18.76" fill="rgb(115,115,115)"/>
<rect x="367.91" y="1320.47" width="19.07" height="18.76" fill="rgb(115,115,115)"/>
<rect x="330.38" y="1080.52" width="19.07" height="18.76" fill="rgb(115,115,115)"/>
<rect x="405.44" y="1080.52" width="19.07" height="18.76" fill="rgb(110,110,110)"/>
<rect x="199.03" y="1338.93" width="19.07" height="18.76" fill="rgb(105,105,105)"/>
<rect x="255.32" y="1357.38" width="19.07" height="18.76" fill="rgb(100,100,100)"/>
<rect x="236.56" y="1357.38" width="19.07" height="18.76" fill="rgb(100,100,100)"/>
<rect x="424.2" y="1154.35" width="19.07" height="18.76" fill="rgb(95,95,95)"/>
<rect x="367.91" y="1080.52" width="19.07" height="18.76" fill="rgb(90,90,90)"/>
<rect x="405.44" y="1117.43" width="19.07" height="18.76" fill="rgb(88,88,88)"/>
<rect x="405.44" y="1098.97" width="19.07" height="18.76" fill="rgb(88,88,88)"/>
<rect x="386.68" y="1098.97" width="19.07" height="18.76" fill="rgb(85,85,85)"/>
<rect x="255.32" y="1375.84" width="19.07" height="18.76" fill="rgb(80,80,80)"/>
<rect x="386.68" y="1246.64" width="19.07" height="18.76" fill="rgb(80,80,80)"/>
<rect x="386.68" y="1117.43" width="19.07" height="18.76" fill="rgb(80,80,80)"/>
<rect x="349.14" y="1117.43" width="19.07" height="18.76" fill="rgb(80,80,80)"/>
<rect x="349.14" y="1098.97" width="19.07" height="18.76" fill="rgb(72,72,72)"/>
<rect x="161.5" y="1080.52" width="19.07" height="18.76" fill="rgb(70,70,70)"/>
<rect x="180.26" y="1283.55" width="19.07" height="18.76" fill="rgb(65,65,65)"/>
<rect x="161.5" y="1265.09" width="19.07" height="18.76" fill="rgb(65,65,65)"/>
<rect x="367.91" y="1283.55" width="19.07" height="18.76" fill="rgb(60,60,60)"/>
<rect x="161.5" y="1283.55" width="19.07" height="18.76" fill="rgb(55,55,55)"/>
<rect x="311.62" y="1209.72" width="19.07" height="18.76" fill="rgb(55,55,55)"/>
<rect x="311.62" y="1043.6" width="19.07" height="18.76" fill="rgb(55,55,55)"/>
<rect x="386.68" y="1283.55" width="19.07" height="18.76" fill="rgb(50,50,50)"/>
<rect x="330.38" y="1209.72" width="19.07" height="18.76" fill="rgb(50,50,50)"/>
<rect x="255.32" y="1191.26" width="19.07" height="18.76" fill="rgb(45,45,45)"/>
<rect x="217.79" y="1191.26" width="19.07" height="18.76" fill="rgb(45,45,45)"/>
<rect x="424.2" y="1172.81" width="19.07" height="18.76" fill="rgb(45,45,45)"/>
<rect x="330.38" y="1062.06" width="19.07" height="18.76" fill="rgb(45,45,45)"/>
<rect x="367.91" y="1265.09" width="19.07" height="18.76" fill="rgb(35,35,35)"/>
<rect x="142.73" y="1062.06" width="19.07" height="18.76" fill="rgb(35,35,35)"/>
<rect x="105.2" y="1338.93" width="19.07" height="18.76" fill="rgb(30,30,30)"/>
<rect x="442.97" y="1154.35" width="19.07" height="18.76" fill="rgb(30,30,30)"/>
<rect x="386.68" y="1265.09" width="19.07" height="18.76" fill="rgb(20,20,20)"/>
<rect x="123.97" y="1228.18" width="19.07" height="18.76" fill="rgb(20,20,20)"/>
<rect x="180.26" y="1265.09" width="19.07" height="18.76" fill="rgb(15,15,15)"/>
<rect x="217.79" y="1338.93" width="19.07" height="18.76" fill="rgb(12,12,12)"/>
<rect x="424.2" y="1191.26" width="19.07" height="18.76" fill="rgb(10,10,10)"/>
<rect x="236.56" y="1191.26" width="19.07" height="18.76" fill="rgb(10,10,10)"/>
<rect x="461.74" y="1357.38" width="19.07" height="18.76" fill="rgb(8,8,8)"/>
<rect x="461.74" y="1375.84" width="19.07" height="18.76" fill="rgb(0,0,0)"/>
<rect x="105.2" y="1375.84" width="19.07" height="18.76" fill="rgb(0,0,0)"/>
<rect x="105.2" y="1357.38" width="19.07" height="18.76" fill="rgb(0,0,0)"/>
<rect x="442.97" y="1338.93" width="19.07" height="18.76" fill="rgb(0,0,0)"/>
<rect x="424.2" y="1338.93" width="19.07" height="18.76" fill="rgb(0,0,0)"/>
<rect x="442.97" y="1320.47" width="19.07" height="18.76" fill="rgb(0,0,0)"/>
<rect x="424.2" y="1320.47" width="19.07" height="18.76" fill="rgb(0,0,0)"/>
<rect x="217.79" y="1320.47" width="19.07" height="18.76" fill="rgb(0,0,0)"/>
<rect x="199.03" y="1320.47" width="19.07" height="18.76" fill="rgb(0,0,0)"/>
<rect x="442.97" y="1302.01" width="19.07" height="18.76" fill="rgb(0,0,0)"/>
<rect x="424.2" y="1302.01" width="19.07" height="18.76" fill="rgb(0,0,0)"/>
<rect x="217.79" y="1302.01" width="19.07" height="18.76" fill="rgb(0,0,0)"/>
<rect x="199.03" y="1302.01" width="19.07" height="18.76" fill="rgb(0,0,0)"/>
<rect x="405.44" y="1283.55" width="19.07" height="18.76" fill="rgb(0,0,0)"/>
<rect x="349.14" y="1283.55" width="19.07" height="18.76" fill="rgb(0,0,0)"/>
<rect x="405.44" y="1265.09" width="19.07" height="18.76" fill="rgb(0,0,0)"/>
<rect x="349.14" y="1265.09" width="19.07" height="18.76" fill="rgb(0,0,0)"/>
<rect x="330.38" y="1246.64" width="19.07" height="18.76" fill="rgb(0,0,0)"/>
<rect x="311.62" y="1246.64" width="19.07" height="18.76" fill="rgb(0,0,0)"/>
<rect x="123.97" y="1246.64" width="19.07" height="18.76" fill="rgb(0,0,0)"/>
<rect x="330.38" y="1228.18" width="19.07" height="18.76" fill="rgb(0,0,0)"/>
<rect x="311.62" y="1228.18" width="19.07" height="18.76" fill="rgb(0,0,0)"/>
<rect x="142.73" y="1228.18" width="19.07" height="18.76" fill="rgb(0,0,0)"/>
<rect x="461.74" y="1209.72" width="19.07" height="18.76" fill="rgb(0,0,0)"/>
<rect x="292.85" y="1209.72" width="19.07" height="18.76" fill="rgb(0,0,0)"/>
<rect x="274.08" y="1209.72" width="19.07" height="18.76" fill="rgb(0,0,0)"/>
<rect x="255.32" y="1209.72" width="19.07" height="18.76" fill="rgb(0,0,0)"/>
<rect x="236.56" y="1209.72" width="19.07" height="18.76" fill="rgb(0,0,0)"/>
<rect x="105.2" y="1209.72" width="19.07" height="18.76" fill="rgb(0,0,0)"/>
<rect x="442.97" y="1191.26" width="19.07" height="18.76" fill="rgb(0,0,0)"/>
<rect x="292.85" y="1191.26" width="19.07" height="18.76" fill="rgb(0,0,0)"/>
<rect x="274.08" y="1191.26" width="19.07" height="18.76" fill="rgb(0,0,0)"/>
<rect x="105.2" y="1191.26" width="19.07" height="18.76" fill="rgb(0,0,0)"/>
<rect x="442.97" y="1172.81" width="19.07" height="18.76" fill="rgb(0,0,0)"/>
<rect x="217.79" y="1172.81" width="19.07" height="18.76" fill="rgb(0,0,0)"/>
<rect x="199.03" y="1172.81" width="19.07" height="18.76" fill="rgb(0,0,0)"/>
<rect x="217.79" y="1154.35" width="19.07" height="18.76" fill="rgb(0,0,0)"/>
<rect x="199.03" y="1154.35" width="19.07" height="18.76" fill="rgb(0,0,0)"/>
<rect x="442.97" y="1135.89" width="19.07" height="18.76" fill="rgb(0,0,0)"/>
<rect x="424.2" y="1135.89" width="19.07" height="18.76" fill="rgb(0,0,0)"/>
<rect x="217.79" y="1135.89" width="19.07" height="18.76" fill="rgb(0,0,0)"/>
<rect x="199.03" y="1135.89" width="19.07" height="18.76" fill="rgb(0,0,0)"/>
<rect x="180.26" y="1117.43" width="19.07" height="18.76" fill="rgb(0,0,0)"/>
<rect x="161.5" y="1117.43" width="19.07" height="18.76" fill="rgb(0,0,0)"/>
<rect x="180.26" y="1098.97" width="19.07" height="18.76" fill="rgb(0,0,0)"/>
<rect x="161.5" y="1098.97" width="19.07" height="18.76" fill="rgb(0,0,0)"/>
<rect x="180.26" y="1080.52" width="19.07" height="18.76" fill="rgb(0,0,0)"/>
<rect x="123.97" y="1080.52" width="19.07" height="18.76" fill="rgb(0,0,0)"/>
<rect x="311.62" y="1062.06" width="19.07" height="18.76" fill="rgb(0,0,0)"/>
<rect x="123.97" y="1062.06" width="19.07" height="18.76" fill="rgb(0,0,0)"/>
<rect x="330.38" y="1043.6" width="19.07" height="18.76" fill="rgb(0,0,0)"/>
<rect x="142.73" y="1043.6" width="19.07" height="18.76" fill="rgb(0,0,0)"/>
<rect x="123.97" y="1043.6" width="19.07" height="18.76" fill="rgb(0,0,0)"/>
</g>
<rect x="105.2" y="1043.6" width="375.3" height="350.7" fill="none" stroke="#111" stroke-width="1.1"/>
<text x="306.7" y="1031.6" font-size="29" fill="#e03a2a" text-anchor="middle">PFNd.L</text>
<text x="293.7" y="1459.3" font-size="29" fill="#1a1a1a" text-anchor="middle">left PB</text>
<rect x="103.2" y="1400" width="19.6" height="25.4" rx="8.2" ry="8.8" fill="#9fb03a"/>
<rect x="122.12" y="1400" width="19.6" height="25.4" rx="8.2" ry="8.8" fill="#9fb03a"/>
<rect x="141.04" y="1400" width="19.6" height="25.4" rx="8.2" ry="8.8" fill="#45b05c"/>
<rect x="159.96" y="1400" width="19.6" height="25.4" rx="8.2" ry="8.8" fill="#45b05c"/>
<rect x="178.88" y="1400" width="19.6" height="25.4" rx="8.2" ry="8.8" fill="#4a9ad8"/>
<rect x="197.81" y="1400" width="19.6" height="25.4" rx="8.2" ry="8.8" fill="#4a9ad8"/>
<rect x="216.73" y="1400" width="19.6" height="25.4" rx="8.2" ry="8.8" fill="#34509f"/>
<rect x="235.65" y="1400" width="19.6" height="25.4" rx="8.2" ry="8.8" fill="#34509f"/>
<rect x="254.57" y="1400" width="19.6" height="25.4" rx="8.2" ry="8.8" fill="#34509f"/>
<rect x="273.49" y="1400" width="19.6" height="25.4" rx="8.2" ry="8.8" fill="#34509f"/>
<rect x="292.41" y="1400" width="19.6" height="25.4" rx="8.2" ry="8.8" fill="#7d52a3"/>
<rect x="311.33" y="1400" width="19.6" height="25.4" rx="8.2" ry="8.8" fill="#7d52a3"/>
<rect x="330.25" y="1400" width="19.6" height="25.4" rx="8.2" ry="8.8" fill="#c94fa5"/>
<rect x="349.17" y="1400" width="19.6" height="25.4" rx="8.2" ry="8.8" fill="#c94fa5"/>
<rect x="368.09" y="1400" width="19.6" height="25.4" rx="8.2" ry="8.8" fill="#c94fa5"/>
<rect x="387.02" y="1400" width="19.6" height="25.4" rx="8.2" ry="8.8" fill="#c94fa5"/>
<rect x="405.94" y="1400" width="19.6" height="25.4" rx="8.2" ry="8.8" fill="#e83b26"/>
<rect x="424.86" y="1400" width="19.6" height="25.4" rx="8.2" ry="8.8" fill="#e83b26"/>
<rect x="443.78" y="1400" width="19.6" height="25.4" rx="8.2" ry="8.8" fill="#d9962f"/>
<rect x="462.7" y="1400" width="19.6" height="25.4" rx="8.2" ry="8.8" fill="#d9962f"/>
<text x="113" y="1421.1" font-size="22.8" text-anchor="middle" fill="#fff">9</text>
<text x="131.92" y="1421.1" font-size="22.8" text-anchor="middle" fill="#fff">9</text>
<text x="150.84" y="1421.1" font-size="22.8" text-anchor="middle" fill="#fff">8</text>
<text x="169.76" y="1421.1" font-size="22.8" text-anchor="middle" fill="#fff">8</text>
<text x="188.68" y="1421.1" font-size="22.8" text-anchor="middle" fill="#fff">7</text>
<text x="207.61" y="1421.1" font-size="22.8" text-anchor="middle" fill="#fff">7</text>
<text x="226.53" y="1421.1" font-size="22.8" text-anchor="middle" fill="#fff">6</text>
<text x="245.45" y="1421.1" font-size="22.8" text-anchor="middle" fill="#fff">6</text>
<text x="264.37" y="1421.1" font-size="22.8" text-anchor="middle" fill="#fff">6</text>
<text x="283.29" y="1421.1" font-size="22.8" text-anchor="middle" fill="#fff">6</text>
<text x="302.21" y="1421.1" font-size="22.8" text-anchor="middle" fill="#fff">5</text>
<text x="321.13" y="1421.1" font-size="22.8" text-anchor="middle" fill="#fff">5</text>
<text x="340.05" y="1421.1" font-size="22.8" text-anchor="middle" fill="#fff">4</text>
<text x="358.97" y="1421.1" font-size="22.8" text-anchor="middle" fill="#fff">4</text>
<text x="377.89" y="1421.1" font-size="22.8" text-anchor="middle" fill="#fff">4</text>
<text x="396.82" y="1421.1" font-size="22.8" text-anchor="middle" fill="#fff">4</text>
<text x="415.74" y="1421.1" font-size="22.8" text-anchor="middle" fill="#fff">3</text>
<text x="434.66" y="1421.1" font-size="22.8" text-anchor="middle" fill="#fff">3</text>
<text x="453.58" y="1421.1" font-size="22.8" text-anchor="middle" fill="#fff">2</text>
<text x="472.5" y="1421.1" font-size="22.8" text-anchor="middle" fill="#fff">2</text>
<text x="98.8" y="1060.13" font-size="19.3" fill="#1a1a1a" text-anchor="end">1</text>
<text x="98.8" y="1078.59" font-size="19.3" fill="#1a1a1a" text-anchor="end">2</text>
<text x="98.8" y="1097.04" font-size="19.3" fill="#1a1a1a" text-anchor="end">3</text>
<text x="98.8" y="1115.5" font-size="19.3" fill="#1a1a1a" text-anchor="end">4</text>
<text x="98.8" y="1133.96" font-size="19.3" fill="#1a1a1a" text-anchor="end">5</text>
<text x="98.8" y="1152.42" font-size="19.3" fill="#1a1a1a" text-anchor="end">6</text>
<text x="98.8" y="1170.88" font-size="19.3" fill="#1a1a1a" text-anchor="end">7</text>
<text x="98.8" y="1189.33" font-size="19.3" fill="#1a1a1a" text-anchor="end">8</text>
<text x="98.8" y="1207.79" font-size="19.3" fill="#1a1a1a" text-anchor="end">9</text>
<text x="98.8" y="1226.25" font-size="19.3" fill="#1a1a1a" text-anchor="end">10</text>
<text x="98.8" y="1244.71" font-size="19.3" fill="#1a1a1a" text-anchor="end">11</text>
<text x="98.8" y="1263.17" font-size="19.3" fill="#1a1a1a" text-anchor="end">12</text>
<text x="98.8" y="1281.62" font-size="19.3" fill="#1a1a1a" text-anchor="end">13</text>
<text x="98.8" y="1300.08" font-size="19.3" fill="#1a1a1a" text-anchor="end">14</text>
<text x="98.8" y="1318.54" font-size="19.3" fill="#1a1a1a" text-anchor="end">15</text>
<text x="98.8" y="1337" font-size="19.3" fill="#1a1a1a" text-anchor="end">16</text>
<text x="98.8" y="1355.46" font-size="19.3" fill="#1a1a1a" text-anchor="end">17</text>
<text x="98.8" y="1373.91" font-size="19.3" fill="#1a1a1a" text-anchor="end">18</text>
<text x="98.8" y="1392.37" font-size="19.3" fill="#1a1a1a" text-anchor="end">19</text>
<g shape-rendering="crispEdges">
<rect x="815.79" y="1375.84" width="18.77" height="18.76" fill="rgb(253,253,253)"/>
<rect x="760.38" y="1357.38" width="18.77" height="18.76" fill="rgb(253,253,253)"/>
<rect x="741.91" y="1357.38" width="18.77" height="18.76" fill="rgb(253,253,253)"/>
<rect x="631.09" y="1357.38" width="18.77" height="18.76" fill="rgb(253,253,253)"/>
<rect x="575.68" y="1320.47" width="18.77" height="18.76" fill="rgb(253,253,253)"/>
<rect x="594.15" y="1098.97" width="18.77" height="18.76" fill="rgb(253,253,253)"/>
<rect x="704.97" y="1357.38" width="18.77" height="18.76" fill="rgb(252,252,252)"/>
<rect x="575.68" y="1172.81" width="18.77" height="18.76" fill="rgb(252,252,252)"/>
<rect x="723.44" y="1117.43" width="18.77" height="18.76" fill="rgb(252,252,252)"/>
<rect x="668.03" y="1062.06" width="18.77" height="18.76" fill="rgb(252,252,252)"/>
<rect x="834.26" y="1283.55" width="18.77" height="18.76" fill="rgb(247,247,247)"/>
<rect x="594.15" y="1265.09" width="18.77" height="18.76" fill="rgb(247,247,247)"/>
<rect x="834.26" y="1209.72" width="18.77" height="18.76" fill="rgb(247,247,247)"/>
<rect x="815.79" y="1209.72" width="18.77" height="18.76" fill="rgb(247,247,247)"/>
<rect x="834.26" y="1098.97" width="18.77" height="18.76" fill="rgb(247,247,247)"/>
<rect x="686.5" y="1062.06" width="18.77" height="18.76" fill="rgb(247,247,247)"/>
<rect x="704.97" y="1265.09" width="18.77" height="18.76" fill="rgb(245,245,245)"/>
<rect x="686.5" y="1135.89" width="18.77" height="18.76" fill="rgb(245,245,245)"/>
<rect x="760.38" y="1080.52" width="18.77" height="18.76" fill="rgb(245,245,245)"/>
<rect x="797.32" y="1043.6" width="18.77" height="18.76" fill="rgb(245,245,245)"/>
<rect x="631.09" y="1265.09" width="18.77" height="18.76" fill="rgb(242,242,242)"/>
<rect x="575.68" y="1135.89" width="18.77" height="18.76" fill="rgb(242,242,242)"/>
<rect x="797.32" y="1338.93" width="18.77" height="18.76" fill="rgb(238,238,238)"/>
<rect x="557.21" y="1228.18" width="18.77" height="18.76" fill="rgb(238,238,238)"/>
<rect x="557.21" y="1172.81" width="18.77" height="18.76" fill="rgb(238,238,238)"/>
<rect x="668.03" y="1135.89" width="18.77" height="18.76" fill="rgb(238,238,238)"/>
<rect x="575.68" y="1043.6" width="18.77" height="18.76" fill="rgb(238,238,238)"/>
<rect x="649.56" y="1357.38" width="18.77" height="18.76" fill="rgb(235,235,235)"/>
<rect x="668.03" y="1302.01" width="18.77" height="18.76" fill="rgb(235,235,235)"/>
<rect x="612.62" y="1283.55" width="18.77" height="18.76" fill="rgb(235,235,235)"/>
<rect x="575.68" y="1228.18" width="18.77" height="18.76" fill="rgb(235,235,235)"/>
<rect x="649.56" y="1191.26" width="18.77" height="18.76" fill="rgb(235,235,235)"/>
<rect x="815.79" y="1117.43" width="18.77" height="18.76" fill="rgb(232,232,232)"/>
<rect x="557.21" y="1302.01" width="18.77" height="18.76" fill="rgb(230,230,230)"/>
<rect x="797.32" y="1228.18" width="18.77" height="18.76" fill="rgb(230,230,230)"/>
<rect x="631.09" y="1191.26" width="18.77" height="18.76" fill="rgb(230,230,230)"/>
<rect x="741.91" y="1080.52" width="18.77" height="18.76" fill="rgb(230,230,230)"/>
<rect x="686.5" y="1302.01" width="18.77" height="18.76" fill="rgb(228,228,228)"/>
<rect x="815.79" y="1357.38" width="18.77" height="18.76" fill="rgb(225,225,225)"/>
<rect x="594.15" y="1357.38" width="18.77" height="18.76" fill="rgb(225,225,225)"/>
<rect x="649.56" y="1265.09" width="18.77" height="18.76" fill="rgb(225,225,225)"/>
<rect x="575.68" y="1154.35" width="18.77" height="18.76" fill="rgb(225,225,225)"/>
<rect x="778.85" y="1135.89" width="18.77" height="18.76" fill="rgb(225,225,225)"/>
<rect x="631.09" y="1098.97" width="18.77" height="18.76" fill="rgb(225,225,225)"/>
<rect x="557.21" y="1043.6" width="18.77" height="18.76" fill="rgb(225,225,225)"/>
<rect x="631.09" y="1338.93" width="18.77" height="18.76" fill="rgb(222,222,222)"/>
<rect x="723.44" y="1209.72" width="18.77" height="18.76" fill="rgb(222,222,222)"/>
<rect x="612.62" y="1191.26" width="18.77" height="18.76" fill="rgb(222,222,222)"/>
<rect x="631.09" y="1117.43" width="18.77" height="18.76" fill="rgb(222,222,222)"/>
<rect x="686.5" y="1043.6" width="18.77" height="18.76" fill="rgb(222,222,222)"/>
<rect x="686.5" y="1154.35" width="18.77" height="18.76" fill="rgb(218,218,218)"/>
<rect x="760.38" y="1375.84" width="18.77" height="18.76" fill="rgb(210,210,210)"/>
<rect x="704.97" y="1375.84" width="18.77" height="18.76" fill="rgb(210,210,210)"/>
<rect x="723.44" y="1283.55" width="18.77" height="18.76" fill="rgb(210,210,210)"/>
<rect x="723.44" y="1265.09" width="18.77" height="18.76" fill="rgb(210,210,210)"/>
<rect x="778.85" y="1172.81" width="18.77" height="18.76" fill="rgb(210,210,210)"/>
<rect x="557.21" y="1320.47" width="18.77" height="18.76" fill="rgb(205,205,205)"/>
<rect x="778.85" y="1154.35" width="18.77" height="18.76" fill="rgb(205,205,205)"/>
<rect x="668.03" y="1154.35" width="18.77" height="18.76" fill="rgb(205,205,205)"/>
<rect x="557.21" y="1154.35" width="18.77" height="18.76" fill="rgb(205,205,205)"/>
<rect x="704.97" y="1080.52" width="18.77" height="18.76" fill="rgb(205,205,205)"/>
<rect x="778.85" y="1062.06" width="18.77" height="18.76" fill="rgb(205,205,205)"/>
<rect x="778.85" y="1320.47" width="18.77" height="18.76" fill="rgb(200,200,200)"/>
<rect x="778.85" y="1302.01" width="18.77" height="18.76" fill="rgb(200,200,200)"/>
<rect x="612.62" y="1265.09" width="18.77" height="18.76" fill="rgb(200,200,200)"/>
<rect x="649.56" y="1117.43" width="18.77" height="18.76" fill="rgb(200,200,200)"/>
<rect x="649.56" y="1098.97" width="18.77" height="18.76" fill="rgb(200,200,200)"/>
<rect x="520.27" y="1080.52" width="18.77" height="18.76" fill="rgb(195,195,195)"/>
<rect x="557.21" y="1135.89" width="18.77" height="18.76" fill="rgb(190,190,190)"/>
<rect x="649.56" y="1338.93" width="18.77" height="18.76" fill="rgb(180,180,180)"/>
<rect x="815.79" y="1191.26" width="18.77" height="18.76" fill="rgb(180,180,180)"/>
<rect x="797.32" y="1135.89" width="18.77" height="18.76" fill="rgb(180,180,180)"/>
<rect x="797.32" y="1062.06" width="18.77" height="18.76" fill="rgb(180,180,180)"/>
<rect x="723.44" y="1043.6" width="18.77" height="18.76" fill="rgb(180,180,180)"/>
<rect x="668.03" y="1043.6" width="18.77" height="18.76" fill="rgb(180,180,180)"/>
<rect x="760.38" y="1246.64" width="18.77" height="18.76" fill="rgb(175,175,175)"/>
<rect x="741.91" y="1375.84" width="18.77" height="18.76" fill="rgb(165,165,165)"/>
<rect x="834.26" y="1357.38" width="18.77" height="18.76" fill="rgb(165,165,165)"/>
<rect x="612.62" y="1338.93" width="18.77" height="18.76" fill="rgb(165,165,165)"/>
<rect x="686.5" y="1228.18" width="18.77" height="18.76" fill="rgb(165,165,165)"/>
<rect x="686.5" y="1172.81" width="18.77" height="18.76" fill="rgb(165,165,165)"/>
<rect x="612.62" y="1098.97" width="18.77" height="18.76" fill="rgb(165,165,165)"/>
<rect x="723.44" y="1080.52" width="18.77" height="18.76" fill="rgb(165,165,165)"/>
<rect x="852.73" y="1338.93" width="18.77" height="18.76" fill="rgb(160,160,160)"/>
<rect x="557.21" y="1062.06" width="18.77" height="18.76" fill="rgb(155,155,155)"/>
<rect x="612.62" y="1117.43" width="18.77" height="18.76" fill="rgb(150,150,150)"/>
<rect x="815.79" y="1098.97" width="18.77" height="18.76" fill="rgb(150,150,150)"/>
<rect x="797.32" y="1080.52" width="18.77" height="18.76" fill="rgb(150,150,150)"/>
<rect x="815.79" y="1265.09" width="18.77" height="18.76" fill="rgb(148,148,148)"/>
<rect x="815.79" y="1283.55" width="18.77" height="18.76" fill="rgb(140,140,140)"/>
<rect x="612.62" y="1172.81" width="18.77" height="18.76" fill="rgb(140,140,140)"/>
<rect x="668.03" y="1172.81" width="18.77" height="18.76" fill="rgb(135,135,135)"/>
<rect x="704.97" y="1209.72" width="18.77" height="18.76" fill="rgb(130,130,130)"/>
<rect x="594.15" y="1191.26" width="18.77" height="18.76" fill="rgb(130,130,130)"/>
<rect x="797.32" y="1172.81" width="18.77" height="18.76" fill="rgb(130,130,130)"/>
<rect x="760.38" y="1062.06" width="18.77" height="18.76" fill="rgb(130,130,130)"/>
<rect x="575.68" y="1062.06" width="18.77" height="18.76" fill="rgb(130,130,130)"/>
<rect x="612.62" y="1320.47" width="18.77" height="18.76" fill="rgb(125,125,125)"/>
<rect x="668.03" y="1228.18" width="18.77" height="18.76" fill="rgb(125,125,125)"/>
<rect x="797.32" y="1154.35" width="18.77" height="18.76" fill="rgb(125,125,125)"/>
<rect x="741.91" y="1062.06" width="18.77" height="18.76" fill="rgb(125,125,125)"/>
<rect x="741.91" y="1043.6" width="18.77" height="18.76" fill="rgb(125,125,125)"/>
<rect x="741.91" y="1246.64" width="18.77" height="18.76" fill="rgb(115,115,115)"/>
<rect x="760.38" y="1043.6" width="18.77" height="18.76" fill="rgb(115,115,115)"/>
<rect x="649.56" y="1320.47" width="18.77" height="18.76" fill="rgb(110,110,110)"/>
<rect x="649.56" y="1302.01" width="18.77" height="18.76" fill="rgb(105,105,105)"/>
<rect x="594.15" y="1302.01" width="18.77" height="18.76" fill="rgb(105,105,105)"/>
<rect x="520.27" y="1246.64" width="18.77" height="18.76" fill="rgb(105,105,105)"/>
<rect x="797.32" y="1246.64" width="18.77" height="18.76" fill="rgb(100,100,100)"/>
<rect x="557.21" y="1246.64" width="18.77" height="18.76" fill="rgb(100,100,100)"/>
<rect x="501.8" y="1338.93" width="18.77" height="18.76" fill="rgb(95,95,95)"/>
<rect x="668.03" y="1338.93" width="18.77" height="18.76" fill="rgb(90,90,90)"/>
<rect x="612.62" y="1302.01" width="18.77" height="18.76" fill="rgb(90,90,90)"/>
<rect x="704.97" y="1043.6" width="18.77" height="18.76" fill="rgb(90,90,90)"/>
<rect x="723.44" y="1062.06" width="18.77" height="18.76" fill="rgb(88,88,88)"/>
<rect x="686.5" y="1338.93" width="18.77" height="18.76" fill="rgb(80,80,80)"/>
<rect x="594.15" y="1338.93" width="18.77" height="18.76" fill="rgb(80,80,80)"/>
<rect x="594.15" y="1320.47" width="18.77" height="18.76" fill="rgb(80,80,80)"/>
<rect x="538.74" y="1080.52" width="18.77" height="18.76" fill="rgb(80,80,80)"/>
<rect x="686.5" y="1375.84" width="18.77" height="18.76" fill="rgb(75,75,75)"/>
<rect x="741.91" y="1209.72" width="18.77" height="18.76" fill="rgb(75,75,75)"/>
<rect x="852.73" y="1191.26" width="18.77" height="18.76" fill="rgb(70,70,70)"/>
<rect x="797.32" y="1302.01" width="18.77" height="18.76" fill="rgb(68,68,68)"/>
<rect x="760.38" y="1209.72" width="18.77" height="18.76" fill="rgb(68,68,68)"/>
<rect x="704.97" y="1062.06" width="18.77" height="18.76" fill="rgb(65,65,65)"/>
<rect x="594.15" y="1172.81" width="18.77" height="18.76" fill="rgb(62,62,62)"/>
<rect x="797.32" y="1320.47" width="18.77" height="18.76" fill="rgb(60,60,60)"/>
<rect x="575.68" y="1265.09" width="18.77" height="18.76" fill="rgb(60,60,60)"/>
<rect x="834.26" y="1154.35" width="18.77" height="18.76" fill="rgb(60,60,60)"/>
<rect x="815.79" y="1338.93" width="18.77" height="18.76" fill="rgb(55,55,55)"/>
<rect x="778.85" y="1246.64" width="18.77" height="18.76" fill="rgb(55,55,55)"/>
<rect x="538.74" y="1246.64" width="18.77" height="18.76" fill="rgb(55,55,55)"/>
<rect x="815.79" y="1172.81" width="18.77" height="18.76" fill="rgb(55,55,55)"/>
<rect x="501.8" y="1191.26" width="18.77" height="18.76" fill="rgb(50,50,50)"/>
<rect x="594.15" y="1154.35" width="18.77" height="18.76" fill="rgb(50,50,50)"/>
<rect x="668.03" y="1375.84" width="18.77" height="18.76" fill="rgb(48,48,48)"/>
<rect x="575.68" y="1283.55" width="18.77" height="18.76" fill="rgb(45,45,45)"/>
<rect x="557.21" y="1283.55" width="18.77" height="18.76" fill="rgb(45,45,45)"/>
<rect x="797.32" y="1117.43" width="18.77" height="18.76" fill="rgb(45,45,45)"/>
<rect x="575.68" y="1246.64" width="18.77" height="18.76" fill="rgb(42,42,42)"/>
<rect x="723.44" y="1228.18" width="18.77" height="18.76" fill="rgb(40,40,40)"/>
<rect x="612.62" y="1154.35" width="18.77" height="18.76" fill="rgb(35,35,35)"/>
<rect x="649.56" y="1154.35" width="18.77" height="18.76" fill="rgb(32,32,32)"/>
<rect x="612.62" y="1135.89" width="18.77" height="18.76" fill="rgb(32,32,32)"/>
<rect x="557.21" y="1265.09" width="18.77" height="18.76" fill="rgb(30,30,30)"/>
<rect x="778.85" y="1080.52" width="18.77" height="18.76" fill="rgb(30,30,30)"/>
<rect x="520.27" y="1062.06" width="18.77" height="18.76" fill="rgb(28,28,28)"/>
<rect x="686.5" y="1357.38" width="18.77" height="18.76" fill="rgb(25,25,25)"/>
<rect x="631.09" y="1320.47" width="18.77" height="18.76" fill="rgb(25,25,25)"/>
<rect x="631.09" y="1302.01" width="18.77" height="18.76" fill="rgb(25,25,25)"/>
<rect x="649.56" y="1135.89" width="18.77" height="18.76" fill="rgb(25,25,25)"/>
<rect x="815.79" y="1135.89" width="18.77" height="18.76" fill="rgb(22,22,22)"/>
<rect x="594.15" y="1135.89" width="18.77" height="18.76" fill="rgb(22,22,22)"/>
<rect x="704.97" y="1246.64" width="18.77" height="18.76" fill="rgb(20,20,20)"/>
<rect x="649.56" y="1172.81" width="18.77" height="18.76" fill="rgb(20,20,20)"/>
<rect x="834.26" y="1191.26" width="18.77" height="18.76" fill="rgb(18,18,18)"/>
<rect x="834.26" y="1135.89" width="18.77" height="18.76" fill="rgb(12,12,12)"/>
<rect x="538.74" y="1228.18" width="18.77" height="18.76" fill="rgb(8,8,8)"/>
<rect x="778.85" y="1117.43" width="18.77" height="18.76" fill="rgb(8,8,8)"/>
<rect x="852.73" y="1375.84" width="18.77" height="18.76" fill="rgb(0,0,0)"/>
<rect x="501.8" y="1375.84" width="18.77" height="18.76" fill="rgb(0,0,0)"/>
<rect x="852.73" y="1357.38" width="18.77" height="18.76" fill="rgb(0,0,0)"/>
<rect x="668.03" y="1357.38" width="18.77" height="18.76" fill="rgb(0,0,0)"/>
<rect x="501.8" y="1357.38" width="18.77" height="18.76" fill="rgb(0,0,0)"/>
<rect x="834.26" y="1338.93" width="18.77" height="18.76" fill="rgb(0,0,0)"/>
<rect x="834.26" y="1320.47" width="18.77" height="18.76" fill="rgb(0,0,0)"/>
<rect x="815.79" y="1320.47" width="18.77" height="18.76" fill="rgb(0,0,0)"/>
<rect x="834.26" y="1302.01" width="18.77" height="18.76" fill="rgb(0,0,0)"/>
<rect x="815.79" y="1302.01" width="18.77" height="18.76" fill="rgb(0,0,0)"/>
<rect x="797.32" y="1283.55" width="18.77" height="18.76" fill="rgb(0,0,0)"/>
<rect x="778.85" y="1283.55" width="18.77" height="18.76" fill="rgb(0,0,0)"/>
<rect x="797.32" y="1265.09" width="18.77" height="18.76" fill="rgb(0,0,0)"/>
<rect x="778.85" y="1265.09" width="18.77" height="18.76" fill="rgb(0,0,0)"/>
<rect x="723.44" y="1246.64" width="18.77" height="18.76" fill="rgb(0,0,0)"/>
<rect x="760.38" y="1228.18" width="18.77" height="18.76" fill="rgb(0,0,0)"/>
<rect x="741.91" y="1228.18" width="18.77" height="18.76" fill="rgb(0,0,0)"/>
<rect x="704.97" y="1228.18" width="18.77" height="18.76" fill="rgb(0,0,0)"/>
<rect x="520.27" y="1228.18" width="18.77" height="18.76" fill="rgb(0,0,0)"/>
<rect x="852.73" y="1209.72" width="18.77" height="18.76" fill="rgb(0,0,0)"/>
<rect x="686.5" y="1209.72" width="18.77" height="18.76" fill="rgb(0,0,0)"/>
<rect x="668.03" y="1209.72" width="18.77" height="18.76" fill="rgb(0,0,0)"/>
<rect x="501.8" y="1209.72" width="18.77" height="18.76" fill="rgb(0,0,0)"/>
<rect x="686.5" y="1191.26" width="18.77" height="18.76" fill="rgb(0,0,0)"/>
<rect x="668.03" y="1191.26" width="18.77" height="18.76" fill="rgb(0,0,0)"/>
<rect x="834.26" y="1172.81" width="18.77" height="18.76" fill="rgb(0,0,0)"/>
<rect x="631.09" y="1172.81" width="18.77" height="18.76" fill="rgb(0,0,0)"/>
<rect x="815.79" y="1154.35" width="18.77" height="18.76" fill="rgb(0,0,0)"/>
<rect x="631.09" y="1154.35" width="18.77" height="18.76" fill="rgb(0,0,0)"/>
<rect x="631.09" y="1135.89" width="18.77" height="18.76" fill="rgb(0,0,0)"/>
<rect x="575.68" y="1117.43" width="18.77" height="18.76" fill="rgb(0,0,0)"/>
<rect x="557.21" y="1117.43" width="18.77" height="18.76" fill="rgb(0,0,0)"/>
<rect x="797.32" y="1098.97" width="18.77" height="18.76" fill="rgb(0,0,0)"/>
<rect x="778.85" y="1098.97" width="18.77" height="18.76" fill="rgb(0,0,0)"/>
<rect x="575.68" y="1098.97" width="18.77" height="18.76" fill="rgb(0,0,0)"/>
<rect x="557.21" y="1098.97" width="18.77" height="18.76" fill="rgb(0,0,0)"/>
<rect x="575.68" y="1080.52" width="18.77" height="18.76" fill="rgb(0,0,0)"/>
<rect x="557.21" y="1080.52" width="18.77" height="18.76" fill="rgb(0,0,0)"/>
<rect x="538.74" y="1062.06" width="18.77" height="18.76" fill="rgb(0,0,0)"/>
<rect x="538.74" y="1043.6" width="18.77" height="18.76" fill="rgb(0,0,0)"/>
<rect x="520.27" y="1043.6" width="18.77" height="18.76" fill="rgb(0,0,0)"/>
</g>
<rect x="501.8" y="1043.6" width="369.4" height="350.7" fill="none" stroke="#111" stroke-width="2"/>
<text x="699.4" y="1031.6" font-size="29" fill="#e03a2a" text-anchor="middle">PFNd.R</text>
<text x="699.2" y="1459.5" font-size="29" fill="#1a1a1a" text-anchor="middle">right PB</text>
<rect x="497.6" y="1400" width="19.6" height="25.4" rx="8.2" ry="8.8" fill="#9fb03a"/>
<rect x="516.53" y="1400" width="19.6" height="25.4" rx="8.2" ry="8.8" fill="#9fb03a"/>
<rect x="535.45" y="1400" width="19.6" height="25.4" rx="8.2" ry="8.8" fill="#45b05c"/>
<rect x="554.38" y="1400" width="19.6" height="25.4" rx="8.2" ry="8.8" fill="#45b05c"/>
<rect x="573.31" y="1400" width="19.6" height="25.4" rx="8.2" ry="8.8" fill="#4a9ad8"/>
<rect x="592.23" y="1400" width="19.6" height="25.4" rx="8.2" ry="8.8" fill="#4a9ad8"/>
<rect x="611.16" y="1400" width="19.6" height="25.4" rx="8.2" ry="8.8" fill="#34509f"/>
<rect x="630.08" y="1400" width="19.6" height="25.4" rx="8.2" ry="8.8" fill="#34509f"/>
<rect x="649.01" y="1400" width="19.6" height="25.4" rx="8.2" ry="8.8" fill="#34509f"/>
<rect x="667.94" y="1400" width="19.6" height="25.4" rx="8.2" ry="8.8" fill="#34509f"/>
<rect x="686.86" y="1400" width="19.6" height="25.4" rx="8.2" ry="8.8" fill="#7d52a3"/>
<rect x="705.79" y="1400" width="19.6" height="25.4" rx="8.2" ry="8.8" fill="#7d52a3"/>
<rect x="724.72" y="1400" width="19.6" height="25.4" rx="8.2" ry="8.8" fill="#c94fa5"/>
<rect x="743.64" y="1400" width="19.6" height="25.4" rx="8.2" ry="8.8" fill="#c94fa5"/>
<rect x="762.57" y="1400" width="19.6" height="25.4" rx="8.2" ry="8.8" fill="#c94fa5"/>
<rect x="781.49" y="1400" width="19.6" height="25.4" rx="8.2" ry="8.8" fill="#c94fa5"/>
<rect x="800.42" y="1400" width="19.6" height="25.4" rx="8.2" ry="8.8" fill="#e83b26"/>
<rect x="819.35" y="1400" width="19.6" height="25.4" rx="8.2" ry="8.8" fill="#e83b26"/>
<rect x="838.27" y="1400" width="19.6" height="25.4" rx="8.2" ry="8.8" fill="#d9962f"/>
<rect x="857.2" y="1400" width="19.6" height="25.4" rx="8.2" ry="8.8" fill="#d9962f"/>
<text x="507.4" y="1421.1" font-size="22.8" text-anchor="middle" fill="#fff">9</text>
<text x="526.33" y="1421.1" font-size="22.8" text-anchor="middle" fill="#fff">9</text>
<text x="545.25" y="1421.1" font-size="22.8" text-anchor="middle" fill="#fff">2</text>
<text x="564.18" y="1421.1" font-size="22.8" text-anchor="middle" fill="#fff">2</text>
<text x="583.11" y="1421.1" font-size="22.8" text-anchor="middle" fill="#fff">3</text>
<text x="602.03" y="1421.1" font-size="22.8" text-anchor="middle" fill="#fff">3</text>
<text x="620.96" y="1421.1" font-size="22.8" text-anchor="middle" fill="#fff">4</text>
<text x="639.88" y="1421.1" font-size="22.8" text-anchor="middle" fill="#fff">4</text>
<text x="658.81" y="1421.1" font-size="22.8" text-anchor="middle" fill="#fff">4</text>
<text x="677.74" y="1421.1" font-size="22.8" text-anchor="middle" fill="#fff">4</text>
<text x="696.66" y="1421.1" font-size="22.8" text-anchor="middle" fill="#fff">5</text>
<text x="715.59" y="1421.1" font-size="22.8" text-anchor="middle" fill="#fff">5</text>
<text x="734.52" y="1421.1" font-size="22.8" text-anchor="middle" fill="#fff">6</text>
<text x="753.44" y="1421.1" font-size="22.8" text-anchor="middle" fill="#fff">6</text>
<text x="772.37" y="1421.1" font-size="22.8" text-anchor="middle" fill="#fff">6</text>
<text x="791.29" y="1421.1" font-size="22.8" text-anchor="middle" fill="#fff">6</text>
<text x="810.22" y="1421.1" font-size="22.8" text-anchor="middle" fill="#fff">7</text>
<text x="829.15" y="1421.1" font-size="22.8" text-anchor="middle" fill="#fff">7</text>
<text x="848.07" y="1421.1" font-size="22.8" text-anchor="middle" fill="#fff">8</text>
<text x="867" y="1421.1" font-size="22.8" text-anchor="middle" fill="#fff">8</text>
<g shape-rendering="crispEdges">
<rect x="910" y="1172.81" width="18.86" height="18.76" fill="rgb(252,252,252)"/>
<rect x="1077.04" y="1080.52" width="18.86" height="18.76" fill="rgb(247,247,247)"/>
<rect x="947.12" y="1338.93" width="18.86" height="18.76" fill="rgb(243,243,243)"/>
<rect x="1021.36" y="1117.43" width="18.86" height="18.76" fill="rgb(243,243,243)"/>
<rect x="984.24" y="1062.06" width="18.86" height="18.76" fill="rgb(243,243,243)"/>
<rect x="1002.8" y="1062.06" width="18.86" height="18.76" fill="rgb(235,235,235)"/>
<rect x="1002.8" y="1338.93" width="18.86" height="18.76" fill="rgb(230,230,230)"/>
<rect x="965.68" y="1283.55" width="18.86" height="18.76" fill="rgb(230,230,230)"/>
<rect x="1002.8" y="1043.6" width="18.86" height="18.76" fill="rgb(230,230,230)"/>
<rect x="1077.04" y="1098.97" width="18.86" height="18.76" fill="rgb(225,225,225)"/>
<rect x="984.24" y="1338.93" width="18.86" height="18.76" fill="rgb(222,222,222)"/>
<rect x="1021.36" y="1080.52" width="18.86" height="18.76" fill="rgb(222,222,222)"/>
<rect x="1021.36" y="1098.97" width="18.86" height="18.76" fill="rgb(218,218,218)"/>
<rect x="965.68" y="1265.09" width="18.86" height="18.76" fill="rgb(200,200,200)"/>
<rect x="1077.04" y="1209.72" width="18.86" height="18.76" fill="rgb(200,200,200)"/>
<rect x="1058.48" y="1135.89" width="18.86" height="18.76" fill="rgb(200,200,200)"/>
<rect x="1058.48" y="1154.35" width="18.86" height="18.76" fill="rgb(195,195,195)"/>
<rect x="1002.8" y="1357.38" width="18.86" height="18.76" fill="rgb(192,192,192)"/>
<rect x="1058.48" y="1080.52" width="18.86" height="18.76" fill="rgb(188,188,188)"/>
<rect x="1021.36" y="1043.6" width="18.86" height="18.76" fill="rgb(185,185,185)"/>
<rect x="947.12" y="1246.64" width="18.86" height="18.76" fill="rgb(178,178,178)"/>
<rect x="1039.92" y="1080.52" width="18.86" height="18.76" fill="rgb(178,178,178)"/>
<rect x="947.12" y="1302.01" width="18.86" height="18.76" fill="rgb(165,165,165)"/>
<rect x="984.24" y="1357.38" width="18.86" height="18.76" fill="rgb(158,158,158)"/>
<rect x="1058.48" y="1172.81" width="18.86" height="18.76" fill="rgb(158,158,158)"/>
<rect x="1002.8" y="1375.84" width="18.86" height="18.76" fill="rgb(150,150,150)"/>
<rect x="965.68" y="1357.38" width="18.86" height="18.76" fill="rgb(150,150,150)"/>
<rect x="1039.92" y="1172.81" width="18.86" height="18.76" fill="rgb(150,150,150)"/>
<rect x="984.24" y="1043.6" width="18.86" height="18.76" fill="rgb(140,140,140)"/>
<rect x="947.12" y="1265.09" width="18.86" height="18.76" fill="rgb(130,130,130)"/>
<rect x="1058.48" y="1117.43" width="18.86" height="18.76" fill="rgb(130,130,130)"/>
<rect x="965.68" y="1320.47" width="18.86" height="18.76" fill="rgb(128,128,128)"/>
<rect x="1039.92" y="1154.35" width="18.86" height="18.76" fill="rgb(128,128,128)"/>
<rect x="1039.92" y="1135.89" width="18.86" height="18.76" fill="rgb(128,128,128)"/>
<rect x="1058.48" y="1098.97" width="18.86" height="18.76" fill="rgb(128,128,128)"/>
<rect x="910" y="1191.26" width="18.86" height="18.76" fill="rgb(118,118,118)"/>
<rect x="947.12" y="1320.47" width="18.86" height="18.76" fill="rgb(115,115,115)"/>
<rect x="1039.92" y="1117.43" width="18.86" height="18.76" fill="rgb(115,115,115)"/>
<rect x="1039.92" y="1098.97" width="18.86" height="18.76" fill="rgb(108,108,108)"/>
<rect x="984.24" y="1375.84" width="18.86" height="18.76" fill="rgb(100,100,100)"/>
<rect x="947.12" y="1283.55" width="18.86" height="18.76" fill="rgb(100,100,100)"/>
<rect x="965.68" y="1338.93" width="18.86" height="18.76" fill="rgb(88,88,88)"/>
<rect x="928.56" y="1246.64" width="18.86" height="18.76" fill="rgb(70,70,70)"/>
<rect x="1021.36" y="1062.06" width="18.86" height="18.76" fill="rgb(70,70,70)"/>
<rect x="1077.04" y="1191.26" width="18.86" height="18.76" fill="rgb(50,50,50)"/>
<rect x="1077.04" y="1154.35" width="18.86" height="18.76" fill="rgb(50,50,50)"/>
<rect x="1077.04" y="1172.81" width="18.86" height="18.76" fill="rgb(22,22,22)"/>
<rect x="1077.04" y="1135.89" width="18.86" height="18.76" fill="rgb(15,15,15)"/>
<rect x="965.68" y="1302.01" width="18.86" height="18.76" fill="rgb(10,10,10)"/>
<rect x="928.56" y="1228.18" width="18.86" height="18.76" fill="rgb(0,0,0)"/>
<rect x="910" y="1209.72" width="18.86" height="18.76" fill="rgb(0,0,0)"/>
</g>
<rect x="910" y="1043.6" width="185.6" height="350.7" fill="none" stroke="#111" stroke-width="2"/>
<text x="1001.5" y="1031.6" font-size="29" fill="#4585bd" text-anchor="middle">PFNv.L</text>
<text x="1010.2" y="1459.3" font-size="29" fill="#1a1a1a" text-anchor="middle">left PB</text>
<rect x="910.1" y="1400" width="19.6" height="25.4" rx="8.2" ry="8.8" fill="#9fb03a"/>
<rect x="928.97" y="1400" width="19.6" height="25.4" rx="8.2" ry="8.8" fill="#45b05c"/>
<rect x="947.83" y="1400" width="19.6" height="25.4" rx="8.2" ry="8.8" fill="#4a9ad8"/>
<rect x="966.7" y="1400" width="19.6" height="25.4" rx="8.2" ry="8.8" fill="#34509f"/>
<rect x="985.57" y="1400" width="19.6" height="25.4" rx="8.2" ry="8.8" fill="#34509f"/>
<rect x="1004.43" y="1400" width="19.6" height="25.4" rx="8.2" ry="8.8" fill="#7d52a3"/>
<rect x="1023.3" y="1400" width="19.6" height="25.4" rx="8.2" ry="8.8" fill="#c94fa5"/>
<rect x="1042.17" y="1400" width="19.6" height="25.4" rx="8.2" ry="8.8" fill="#c94fa5"/>
<rect x="1061.03" y="1400" width="19.6" height="25.4" rx="8.2" ry="8.8" fill="#e83b26"/>
<rect x="1079.9" y="1400" width="19.6" height="25.4" rx="8.2" ry="8.8" fill="#d9962f"/>
<text x="919.9" y="1421.1" font-size="22.8" text-anchor="middle" fill="#fff">9</text>
<text x="938.77" y="1421.1" font-size="22.8" text-anchor="middle" fill="#fff">8</text>
<text x="957.63" y="1421.1" font-size="22.8" text-anchor="middle" fill="#fff">7</text>
<text x="976.5" y="1421.1" font-size="22.8" text-anchor="middle" fill="#fff">6</text>
<text x="995.37" y="1421.1" font-size="22.8" text-anchor="middle" fill="#fff">6</text>
<text x="1014.23" y="1421.1" font-size="22.8" text-anchor="middle" fill="#fff">5</text>
<text x="1033.1" y="1421.1" font-size="22.8" text-anchor="middle" fill="#fff">4</text>
<text x="1051.97" y="1421.1" font-size="22.8" text-anchor="middle" fill="#fff">4</text>
<text x="1070.83" y="1421.1" font-size="22.8" text-anchor="middle" fill="#fff">3</text>
<text x="1089.7" y="1421.1" font-size="22.8" text-anchor="middle" fill="#fff">2</text>
<g shape-rendering="crispEdges">
<rect x="1135.54" y="1320.47" width="18.84" height="18.76" fill="rgb(252,252,252)"/>
<rect x="1209.7" y="1357.38" width="18.84" height="18.76" fill="rgb(250,250,250)"/>
<rect x="1117" y="1283.55" width="18.84" height="18.76" fill="rgb(247,247,247)"/>
<rect x="1209.7" y="1338.93" width="18.84" height="18.76" fill="rgb(243,243,243)"/>
<rect x="1228.24" y="1080.52" width="18.84" height="18.76" fill="rgb(243,243,243)"/>
<rect x="1172.62" y="1265.09" width="18.84" height="18.76" fill="rgb(238,238,238)"/>
<rect x="1209.7" y="1080.52" width="18.84" height="18.76" fill="rgb(238,238,238)"/>
<rect x="1209.7" y="1375.84" width="18.84" height="18.76" fill="rgb(235,235,235)"/>
<rect x="1283.86" y="1172.81" width="18.84" height="18.76" fill="rgb(235,235,235)"/>
<rect x="1265.32" y="1080.52" width="18.84" height="18.76" fill="rgb(235,235,235)"/>
<rect x="1191.16" y="1320.47" width="18.84" height="18.76" fill="rgb(230,230,230)"/>
<rect x="1246.78" y="1154.35" width="18.84" height="18.76" fill="rgb(230,230,230)"/>
<rect x="1172.62" y="1283.55" width="18.84" height="18.76" fill="rgb(228,228,228)"/>
<rect x="1172.62" y="1338.93" width="18.84" height="18.76" fill="rgb(225,225,225)"/>
<rect x="1135.54" y="1228.18" width="18.84" height="18.76" fill="rgb(225,225,225)"/>
<rect x="1246.78" y="1135.89" width="18.84" height="18.76" fill="rgb(222,222,222)"/>
<rect x="1154.08" y="1265.09" width="18.84" height="18.76" fill="rgb(215,215,215)"/>
<rect x="1283.86" y="1135.89" width="18.84" height="18.76" fill="rgb(212,212,212)"/>
<rect x="1228.24" y="1375.84" width="18.84" height="18.76" fill="rgb(205,205,205)"/>
<rect x="1154.08" y="1338.93" width="18.84" height="18.76" fill="rgb(205,205,205)"/>
<rect x="1191.16" y="1302.01" width="18.84" height="18.76" fill="rgb(205,205,205)"/>
<rect x="1117" y="1246.64" width="18.84" height="18.76" fill="rgb(200,200,200)"/>
<rect x="1246.78" y="1172.81" width="18.84" height="18.76" fill="rgb(200,200,200)"/>
<rect x="1135.54" y="1265.09" width="18.84" height="18.76" fill="rgb(192,192,192)"/>
<rect x="1265.32" y="1191.26" width="18.84" height="18.76" fill="rgb(185,185,185)"/>
<rect x="1228.24" y="1062.06" width="18.84" height="18.76" fill="rgb(185,185,185)"/>
<rect x="1154.08" y="1283.55" width="18.84" height="18.76" fill="rgb(180,180,180)"/>
<rect x="1209.7" y="1062.06" width="18.84" height="18.76" fill="rgb(178,178,178)"/>
<rect x="1209.7" y="1043.6" width="18.84" height="18.76" fill="rgb(178,178,178)"/>
<rect x="1191.16" y="1375.84" width="18.84" height="18.76" fill="rgb(155,155,155)"/>
<rect x="1265.32" y="1117.43" width="18.84" height="18.76" fill="rgb(150,150,150)"/>
<rect x="1172.62" y="1302.01" width="18.84" height="18.76" fill="rgb(145,145,145)"/>
<rect x="1135.54" y="1283.55" width="18.84" height="18.76" fill="rgb(140,140,140)"/>
<rect x="1246.78" y="1062.06" width="18.84" height="18.76" fill="rgb(140,140,140)"/>
<rect x="1228.24" y="1043.6" width="18.84" height="18.76" fill="rgb(140,140,140)"/>
<rect x="1246.78" y="1080.52" width="18.84" height="18.76" fill="rgb(115,115,115)"/>
<rect x="1172.62" y="1320.47" width="18.84" height="18.76" fill="rgb(108,108,108)"/>
<rect x="1117" y="1228.18" width="18.84" height="18.76" fill="rgb(108,108,108)"/>
<rect x="1246.78" y="1117.43" width="18.84" height="18.76" fill="rgb(108,108,108)"/>
<rect x="1265.32" y="1098.97" width="18.84" height="18.76" fill="rgb(108,108,108)"/>
<rect x="1154.08" y="1320.47" width="18.84" height="18.76" fill="rgb(105,105,105)"/>
<rect x="1246.78" y="1098.97" width="18.84" height="18.76" fill="rgb(100,100,100)"/>
<rect x="1154.08" y="1302.01" width="18.84" height="18.76" fill="rgb(98,98,98)"/>
<rect x="1191.16" y="1357.38" width="18.84" height="18.76" fill="rgb(68,68,68)"/>
<rect x="1283.86" y="1191.26" width="18.84" height="18.76" fill="rgb(50,50,50)"/>
<rect x="1283.86" y="1209.72" width="18.84" height="18.76" fill="rgb(38,38,38)"/>
<rect x="1135.54" y="1246.64" width="18.84" height="18.76" fill="rgb(22,22,22)"/>
<rect x="1191.16" y="1338.93" width="18.84" height="18.76" fill="rgb(0,0,0)"/>
<rect x="1265.32" y="1172.81" width="18.84" height="18.76" fill="rgb(0,0,0)"/>
<rect x="1265.32" y="1154.35" width="18.84" height="18.76" fill="rgb(0,0,0)"/>
<rect x="1265.32" y="1135.89" width="18.84" height="18.76" fill="rgb(0,0,0)"/>
</g>
<rect x="1117" y="1043.6" width="185.4" height="350.7" fill="none" stroke="#111" stroke-width="1.1"/>
<text x="1206.5" y="1031.6" font-size="29" fill="#4585bd" text-anchor="middle">PFNv.R</text>
<text x="1209.7" y="1459.3" font-size="29" fill="#1a1a1a" text-anchor="middle">right PB</text>
<rect x="1116" y="1400" width="19.6" height="25.4" rx="8.2" ry="8.8" fill="#9fb03a"/>
<rect x="1134.87" y="1400" width="19.6" height="25.4" rx="8.2" ry="8.8" fill="#45b05c"/>
<rect x="1153.73" y="1400" width="19.6" height="25.4" rx="8.2" ry="8.8" fill="#4a9ad8"/>
<rect x="1172.6" y="1400" width="19.6" height="25.4" rx="8.2" ry="8.8" fill="#34509f"/>
<rect x="1191.47" y="1400" width="19.6" height="25.4" rx="8.2" ry="8.8" fill="#34509f"/>
<rect x="1210.33" y="1400" width="19.6" height="25.4" rx="8.2" ry="8.8" fill="#7d52a3"/>
<rect x="1229.2" y="1400" width="19.6" height="25.4" rx="8.2" ry="8.8" fill="#c94fa5"/>
<rect x="1248.07" y="1400" width="19.6" height="25.4" rx="8.2" ry="8.8" fill="#c94fa5"/>
<rect x="1266.93" y="1400" width="19.6" height="25.4" rx="8.2" ry="8.8" fill="#e83b26"/>
<rect x="1285.8" y="1400" width="19.6" height="25.4" rx="8.2" ry="8.8" fill="#d9962f"/>
<text x="1125.8" y="1421.1" font-size="22.8" text-anchor="middle" fill="#fff">9</text>
<text x="1144.67" y="1421.1" font-size="22.8" text-anchor="middle" fill="#fff">2</text>
<text x="1163.53" y="1421.1" font-size="22.8" text-anchor="middle" fill="#fff">3</text>
<text x="1182.4" y="1421.1" font-size="22.8" text-anchor="middle" fill="#fff">4</text>
<text x="1201.27" y="1421.1" font-size="22.8" text-anchor="middle" fill="#fff">4</text>
<text x="1220.13" y="1421.1" font-size="22.8" text-anchor="middle" fill="#fff">5</text>
<text x="1239" y="1421.1" font-size="22.8" text-anchor="middle" fill="#fff">6</text>
<text x="1257.87" y="1421.1" font-size="22.8" text-anchor="middle" fill="#fff">6</text>
<text x="1276.73" y="1421.1" font-size="22.8" text-anchor="middle" fill="#fff">7</text>
<text x="1295.6" y="1421.1" font-size="22.8" text-anchor="middle" fill="#fff">8</text>
<text transform="translate(68.2 695.9) rotate(-90)" font-size="29.4" letter-spacing="-1.1" fill="#1a1a1a" text-anchor="middle">h&#916;B</text>
<text transform="translate(67.1 1220.2) rotate(-90)" font-size="29.4" letter-spacing="-1.1" fill="#1a1a1a" text-anchor="middle">h&#916;B</text>
</svg>
</body></html>
